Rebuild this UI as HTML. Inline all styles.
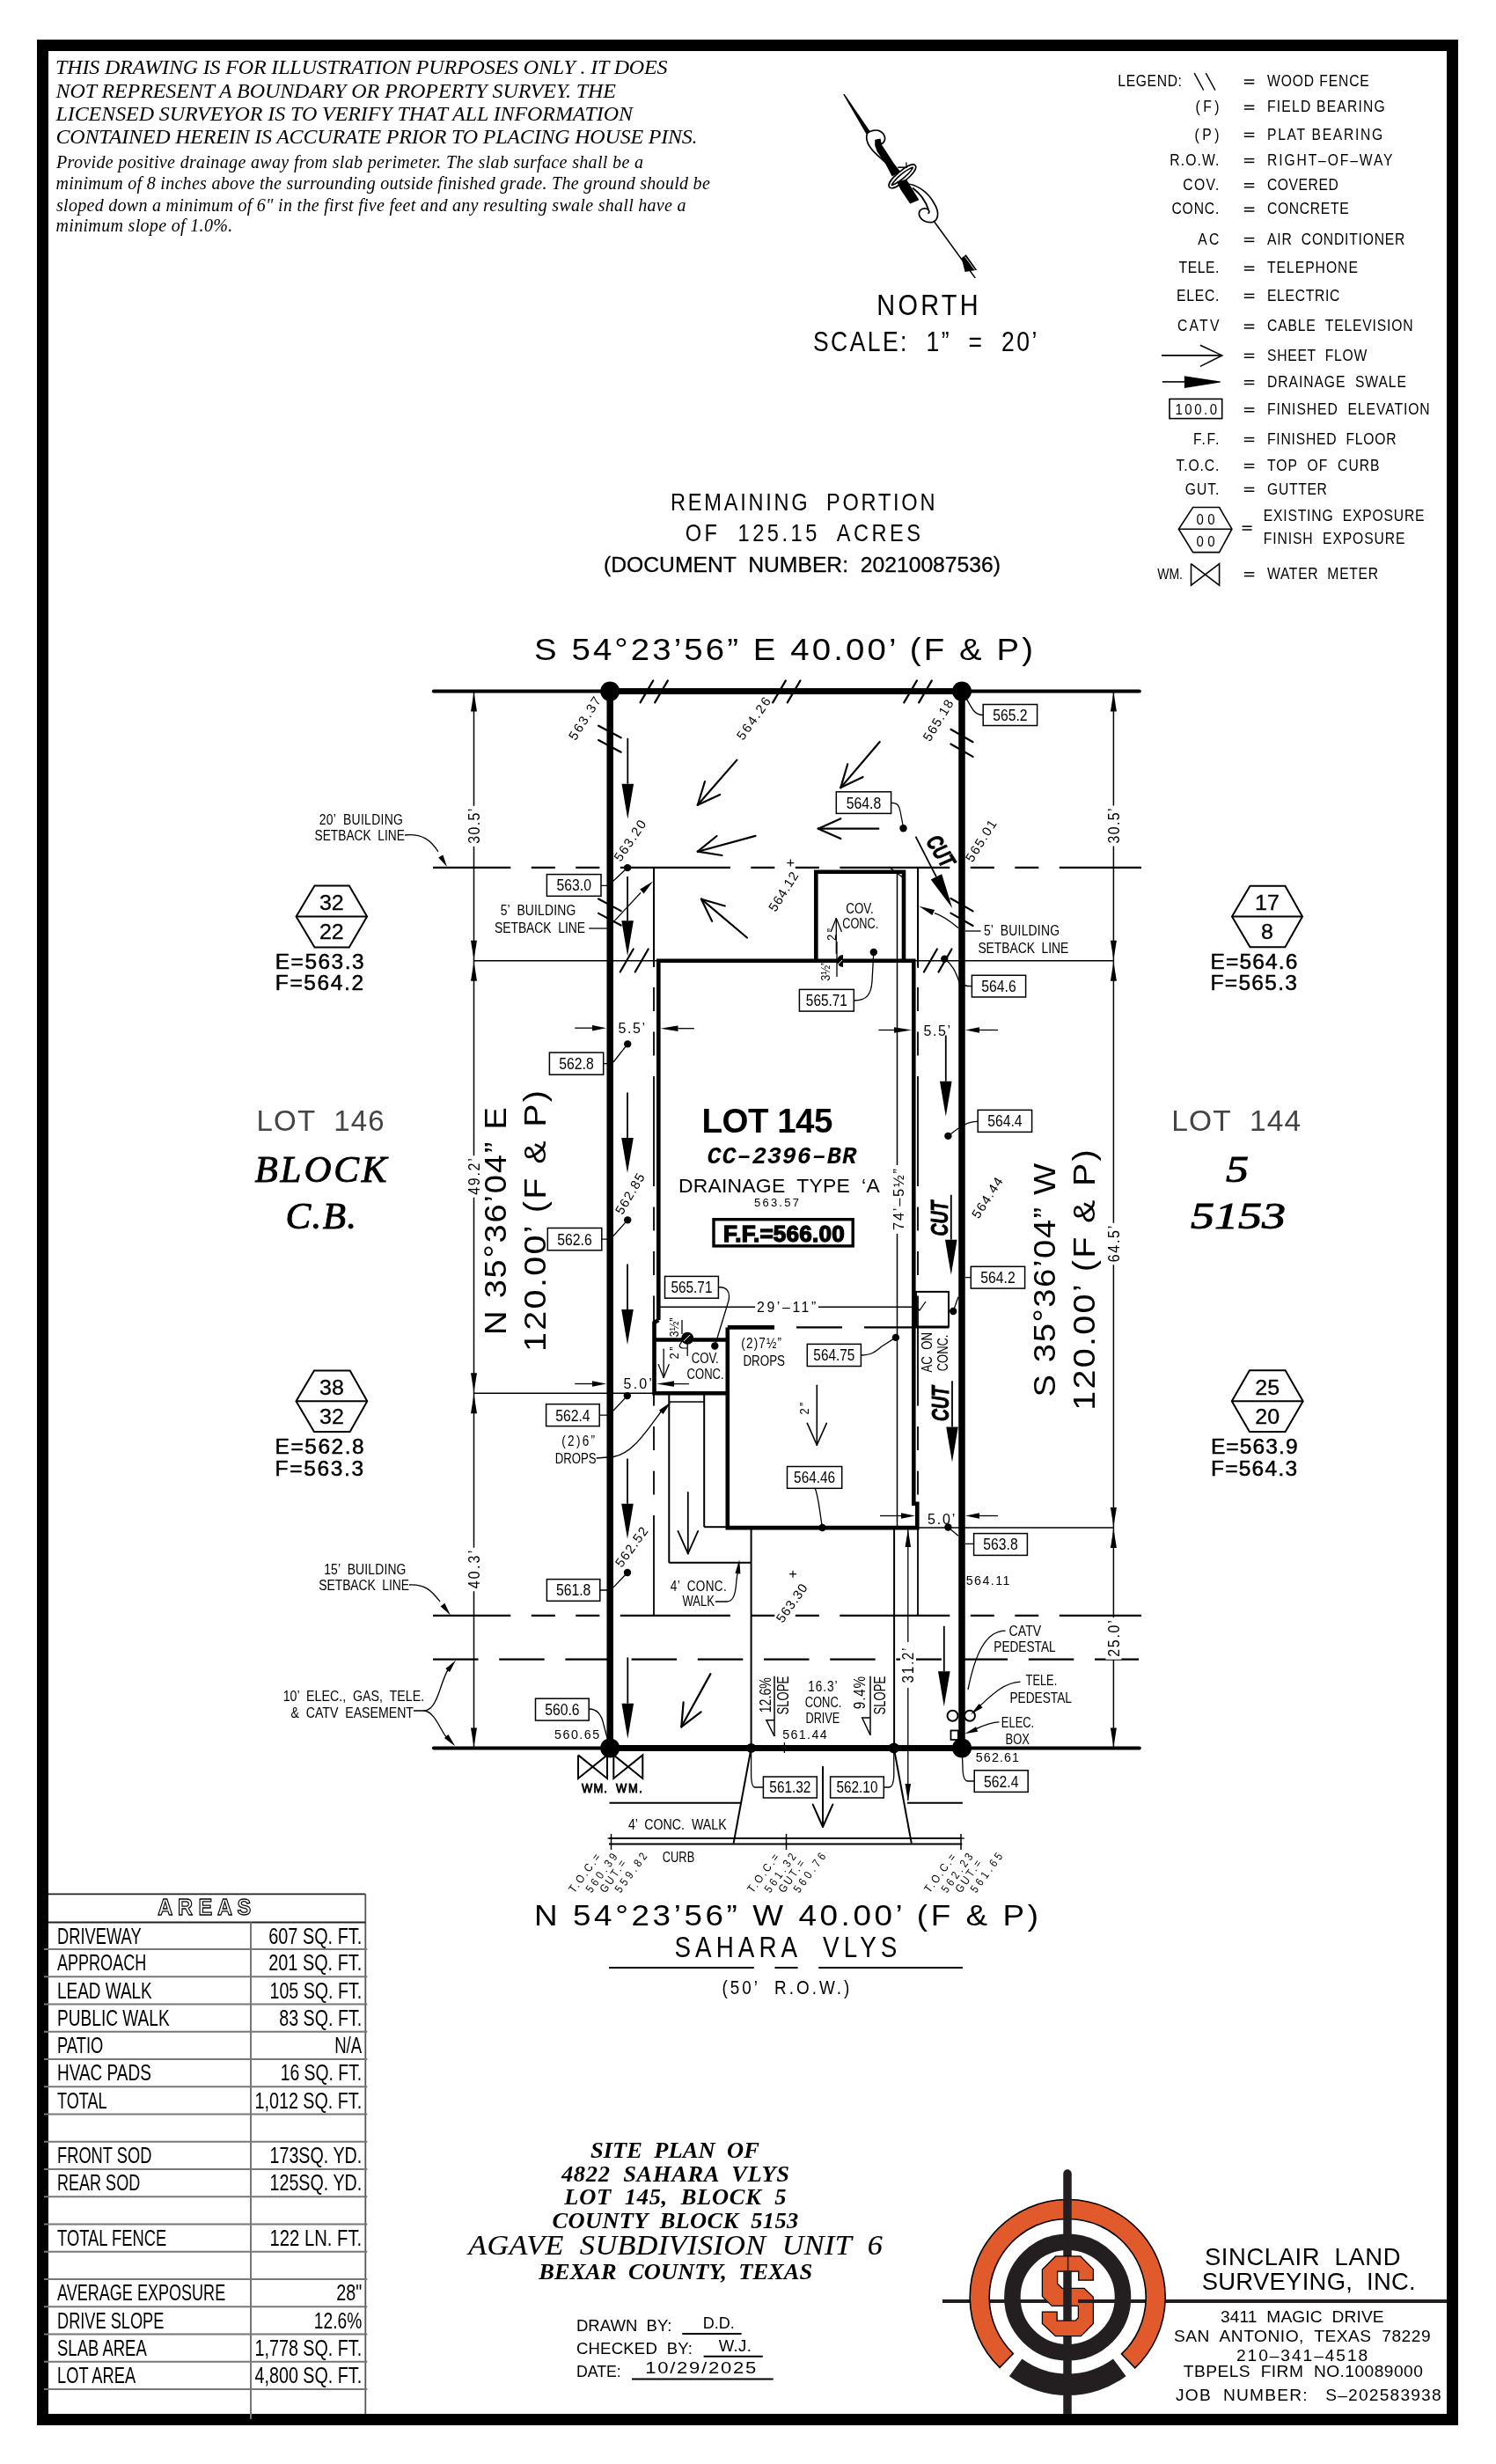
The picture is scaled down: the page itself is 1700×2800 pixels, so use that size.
<!DOCTYPE html>
<html><head><meta charset="utf-8"><title>Site Plan</title>
<style>
html,body{margin:0;padding:0;background:#fff;}
body{width:1700px;height:2800px;overflow:hidden;font-family:"Liberation Sans",sans-serif;}
svg{display:block;will-change:transform;}
</style></head><body>
<svg width="1700" height="2800" viewBox="0 0 1700 2800">
<rect x="0" y="0" width="1700" height="2800" fill="#fff"/>
<rect x="48.5" y="51.5" width="1602" height="2698" fill="none" stroke="#000" stroke-width="13"/>
<text x="63" y="83.6" font-family='"Liberation Serif", serif' font-size="24" xml:space="preserve" style="white-space:pre" font-style="italic" textLength="695.5" lengthAdjust="spacing">THIS DRAWING IS FOR ILLUSTRATION PURPOSES ONLY . IT DOES</text>
<text x="63.5" y="110.6" font-family='"Liberation Serif", serif' font-size="24" xml:space="preserve" style="white-space:pre" font-style="italic" textLength="636.5" lengthAdjust="spacing">NOT REPRESENT A BOUNDARY OR PROPERTY SURVEY. THE</text>
<text x="63.5" y="136.8" font-family='"Liberation Serif", serif' font-size="24" xml:space="preserve" style="white-space:pre" font-style="italic" textLength="655.5" lengthAdjust="spacing">LICENSED SURVEYOR IS TO VERIFY THAT ALL INFORMATION</text>
<text x="63.5" y="162.8" font-family='"Liberation Serif", serif' font-size="24" xml:space="preserve" style="white-space:pre" font-style="italic" textLength="729.1" lengthAdjust="spacing">CONTAINED HEREIN IS ACCURATE PRIOR TO PLACING HOUSE PINS.</text>
<text x="64" y="191.4" font-family='"Liberation Serif", serif' font-size="20" xml:space="preserve" style="white-space:pre" font-style="italic" textLength="667" lengthAdjust="spacing">Provide positive drainage away from slab perimeter. The slab surface shall be a</text>
<text x="63.5" y="215.4" font-family='"Liberation Serif", serif' font-size="20" xml:space="preserve" style="white-space:pre" font-style="italic" textLength="743.3" lengthAdjust="spacing">minimum of 8 inches above the surrounding outside finished grade. The ground should be</text>
<text x="64" y="239.5" font-family='"Liberation Serif", serif' font-size="20" xml:space="preserve" style="white-space:pre" font-style="italic" textLength="715.5" lengthAdjust="spacing">sloped down a minimum of 6" in the first five feet and any resulting swale shall have a</text>
<text x="63.5" y="262.5" font-family='"Liberation Serif", serif' font-size="20" xml:space="preserve" style="white-space:pre" font-style="italic" textLength="200.7" lengthAdjust="spacing">minimum slope of 1.0%.</text>
<text transform="translate(996.3 358.4) scale(0.86 1)" font-family='"Liberation Sans", sans-serif' font-size="33.61" xml:space="preserve" style="white-space:pre" textLength="134.07" lengthAdjust="spacing">NORTH</text>
<text transform="translate(924 399.4) scale(0.86 1)" font-family='"Liberation Sans", sans-serif' font-size="30.86" xml:space="preserve" style="white-space:pre" textLength="295.7" lengthAdjust="spacing">SCALE:  1”  =  20’</text>
<text transform="translate(1270.3 98.2) scale(0.86 1)" font-family='"Liberation Sans", sans-serif' font-size="18.24" xml:space="preserve" style="white-space:pre" textLength="84.53" lengthAdjust="spacing">LEGEND:</text>
<text transform="translate(1440 98.2) scale(0.86 1)" font-family='"Liberation Sans", sans-serif' font-size="18.24" xml:space="preserve" style="white-space:pre" textLength="134.65" lengthAdjust="spacing">WOOD FENCE</text>
<line x1="1413.8" y1="91" x2="1425.3" y2="91" stroke="#000" stroke-width="1.5" stroke-linecap="butt"/>
<line x1="1413.8" y1="94.8" x2="1425.3" y2="94.8" stroke="#000" stroke-width="1.5" stroke-linecap="butt"/>
<text transform="translate(1358.6 127.4) scale(0.86 1)" font-family='"Liberation Sans", sans-serif' font-size="18.24" xml:space="preserve" style="white-space:pre" textLength="31.16" lengthAdjust="spacing">(F)</text>
<text transform="translate(1440 127.4) scale(0.86 1)" font-family='"Liberation Sans", sans-serif' font-size="18.24" xml:space="preserve" style="white-space:pre" textLength="155.58" lengthAdjust="spacing">FIELD BEARING</text>
<line x1="1413.8" y1="120.2" x2="1425.3" y2="120.2" stroke="#000" stroke-width="1.5" stroke-linecap="butt"/>
<line x1="1413.8" y1="124" x2="1425.3" y2="124" stroke="#000" stroke-width="1.5" stroke-linecap="butt"/>
<text transform="translate(1357.6 158.6) scale(0.86 1)" font-family='"Liberation Sans", sans-serif' font-size="18.24" xml:space="preserve" style="white-space:pre" textLength="32.33" lengthAdjust="spacing">(P)</text>
<text transform="translate(1440 158.6) scale(0.86 1)" font-family='"Liberation Sans", sans-serif' font-size="18.24" xml:space="preserve" style="white-space:pre" textLength="152.56" lengthAdjust="spacing">PLAT BEARING</text>
<line x1="1413.8" y1="151.4" x2="1425.3" y2="151.4" stroke="#000" stroke-width="1.5" stroke-linecap="butt"/>
<line x1="1413.8" y1="155.2" x2="1425.3" y2="155.2" stroke="#000" stroke-width="1.5" stroke-linecap="butt"/>
<text transform="translate(1329.3 187.8) scale(0.86 1)" font-family='"Liberation Sans", sans-serif' font-size="18.24" xml:space="preserve" style="white-space:pre" textLength="65.23" lengthAdjust="spacing">R.O.W.</text>
<text transform="translate(1440 187.8) scale(0.86 1)" font-family='"Liberation Sans", sans-serif' font-size="18.24" xml:space="preserve" style="white-space:pre" textLength="165.7" lengthAdjust="spacing">RIGHT–OF–WAY</text>
<line x1="1413.8" y1="180.6" x2="1425.3" y2="180.6" stroke="#000" stroke-width="1.5" stroke-linecap="butt"/>
<line x1="1413.8" y1="184.4" x2="1425.3" y2="184.4" stroke="#000" stroke-width="1.5" stroke-linecap="butt"/>
<text transform="translate(1344.2 216) scale(0.86 1)" font-family='"Liberation Sans", sans-serif' font-size="18.24" xml:space="preserve" style="white-space:pre" textLength="47.91" lengthAdjust="spacing">COV.</text>
<text transform="translate(1440 216) scale(0.86 1)" font-family='"Liberation Sans", sans-serif' font-size="18.24" xml:space="preserve" style="white-space:pre" textLength="93.95" lengthAdjust="spacing">COVERED</text>
<line x1="1413.8" y1="208.8" x2="1425.3" y2="208.8" stroke="#000" stroke-width="1.5" stroke-linecap="butt"/>
<line x1="1413.8" y1="212.6" x2="1425.3" y2="212.6" stroke="#000" stroke-width="1.5" stroke-linecap="butt"/>
<text transform="translate(1331.4 243.4) scale(0.86 1)" font-family='"Liberation Sans", sans-serif' font-size="18.24" xml:space="preserve" style="white-space:pre" textLength="62.79" lengthAdjust="spacing">CONC.</text>
<text transform="translate(1440 243.4) scale(0.86 1)" font-family='"Liberation Sans", sans-serif' font-size="18.24" xml:space="preserve" style="white-space:pre" textLength="107.67" lengthAdjust="spacing">CONCRETE</text>
<line x1="1413.8" y1="236.2" x2="1425.3" y2="236.2" stroke="#000" stroke-width="1.5" stroke-linecap="butt"/>
<line x1="1413.8" y1="240" x2="1425.3" y2="240" stroke="#000" stroke-width="1.5" stroke-linecap="butt"/>
<text transform="translate(1361.2 277.8) scale(0.86 1)" font-family='"Liberation Sans", sans-serif' font-size="18.24" xml:space="preserve" style="white-space:pre" textLength="28.14" lengthAdjust="spacing">AC</text>
<text transform="translate(1440 277.8) scale(0.86 1)" font-family='"Liberation Sans", sans-serif' font-size="18.24" xml:space="preserve" style="white-space:pre" textLength="181.86" lengthAdjust="spacing">AIR  CONDITIONER</text>
<line x1="1413.8" y1="270.6" x2="1425.3" y2="270.6" stroke="#000" stroke-width="1.5" stroke-linecap="butt"/>
<line x1="1413.8" y1="274.4" x2="1425.3" y2="274.4" stroke="#000" stroke-width="1.5" stroke-linecap="butt"/>
<text transform="translate(1339.6 310.4) scale(0.86 1)" font-family='"Liberation Sans", sans-serif' font-size="18.24" xml:space="preserve" style="white-space:pre" textLength="53.26" lengthAdjust="spacing">TELE.</text>
<text transform="translate(1440 310.4) scale(0.86 1)" font-family='"Liberation Sans", sans-serif' font-size="18.24" xml:space="preserve" style="white-space:pre" textLength="119.65" lengthAdjust="spacing">TELEPHONE</text>
<line x1="1413.8" y1="303.2" x2="1425.3" y2="303.2" stroke="#000" stroke-width="1.5" stroke-linecap="butt"/>
<line x1="1413.8" y1="307" x2="1425.3" y2="307" stroke="#000" stroke-width="1.5" stroke-linecap="butt"/>
<text transform="translate(1337 341.6) scale(0.86 1)" font-family='"Liberation Sans", sans-serif' font-size="18.24" xml:space="preserve" style="white-space:pre" textLength="56.28" lengthAdjust="spacing">ELEC.</text>
<text transform="translate(1440 341.6) scale(0.86 1)" font-family='"Liberation Sans", sans-serif' font-size="18.24" xml:space="preserve" style="white-space:pre" textLength="95.7" lengthAdjust="spacing">ELECTRIC</text>
<line x1="1413.8" y1="334.4" x2="1425.3" y2="334.4" stroke="#000" stroke-width="1.5" stroke-linecap="butt"/>
<line x1="1413.8" y1="338.2" x2="1425.3" y2="338.2" stroke="#000" stroke-width="1.5" stroke-linecap="butt"/>
<text transform="translate(1338 376.3) scale(0.86 1)" font-family='"Liberation Sans", sans-serif' font-size="18.24" xml:space="preserve" style="white-space:pre" textLength="55.12" lengthAdjust="spacing">CATV</text>
<text transform="translate(1440 376.3) scale(0.86 1)" font-family='"Liberation Sans", sans-serif' font-size="18.24" xml:space="preserve" style="white-space:pre" textLength="192.67" lengthAdjust="spacing">CABLE  TELEVISION</text>
<line x1="1413.8" y1="369.1" x2="1425.3" y2="369.1" stroke="#000" stroke-width="1.5" stroke-linecap="butt"/>
<line x1="1413.8" y1="372.9" x2="1425.3" y2="372.9" stroke="#000" stroke-width="1.5" stroke-linecap="butt"/>
<text transform="translate(1440 409.6) scale(0.86 1)" font-family='"Liberation Sans", sans-serif' font-size="18.24" xml:space="preserve" style="white-space:pre" textLength="131.63" lengthAdjust="spacing">SHEET  FLOW</text>
<line x1="1413.8" y1="402.4" x2="1425.3" y2="402.4" stroke="#000" stroke-width="1.5" stroke-linecap="butt"/>
<line x1="1413.8" y1="406.2" x2="1425.3" y2="406.2" stroke="#000" stroke-width="1.5" stroke-linecap="butt"/>
<text transform="translate(1440 439.9) scale(0.86 1)" font-family='"Liberation Sans", sans-serif' font-size="18.24" xml:space="preserve" style="white-space:pre" textLength="183.72" lengthAdjust="spacing">DRAINAGE  SWALE</text>
<line x1="1413.8" y1="432.7" x2="1425.3" y2="432.7" stroke="#000" stroke-width="1.5" stroke-linecap="butt"/>
<line x1="1413.8" y1="436.5" x2="1425.3" y2="436.5" stroke="#000" stroke-width="1.5" stroke-linecap="butt"/>
<text transform="translate(1440 471.1) scale(0.86 1)" font-family='"Liberation Sans", sans-serif' font-size="18.24" xml:space="preserve" style="white-space:pre" textLength="214.77" lengthAdjust="spacing">FINISHED  ELEVATION</text>
<line x1="1413.8" y1="463.9" x2="1425.3" y2="463.9" stroke="#000" stroke-width="1.5" stroke-linecap="butt"/>
<line x1="1413.8" y1="467.7" x2="1425.3" y2="467.7" stroke="#000" stroke-width="1.5" stroke-linecap="butt"/>
<text transform="translate(1356 504.8) scale(0.86 1)" font-family='"Liberation Sans", sans-serif' font-size="18.24" xml:space="preserve" style="white-space:pre" textLength="34.19" lengthAdjust="spacing">F.F.</text>
<text transform="translate(1440 504.8) scale(0.86 1)" font-family='"Liberation Sans", sans-serif' font-size="18.24" xml:space="preserve" style="white-space:pre" textLength="170.47" lengthAdjust="spacing">FINISHED  FLOOR</text>
<line x1="1413.8" y1="497.6" x2="1425.3" y2="497.6" stroke="#000" stroke-width="1.5" stroke-linecap="butt"/>
<line x1="1413.8" y1="501.4" x2="1425.3" y2="501.4" stroke="#000" stroke-width="1.5" stroke-linecap="butt"/>
<text transform="translate(1336.5 534.8) scale(0.86 1)" font-family='"Liberation Sans", sans-serif' font-size="18.24" xml:space="preserve" style="white-space:pre" textLength="56.86" lengthAdjust="spacing">T.O.C.</text>
<text transform="translate(1440 534.8) scale(0.86 1)" font-family='"Liberation Sans", sans-serif' font-size="18.24" xml:space="preserve" style="white-space:pre" textLength="148.37" lengthAdjust="spacing">TOP  OF  CURB</text>
<line x1="1413.8" y1="527.6" x2="1425.3" y2="527.6" stroke="#000" stroke-width="1.5" stroke-linecap="butt"/>
<line x1="1413.8" y1="531.4" x2="1425.3" y2="531.4" stroke="#000" stroke-width="1.5" stroke-linecap="butt"/>
<text transform="translate(1346.8 561.6) scale(0.86 1)" font-family='"Liberation Sans", sans-serif' font-size="18.24" xml:space="preserve" style="white-space:pre" textLength="44.88" lengthAdjust="spacing">GUT.</text>
<text transform="translate(1440 561.6) scale(0.86 1)" font-family='"Liberation Sans", sans-serif' font-size="18.24" xml:space="preserve" style="white-space:pre" textLength="78.95" lengthAdjust="spacing">GUTTER</text>
<line x1="1413.8" y1="554.4" x2="1425.3" y2="554.4" stroke="#000" stroke-width="1.5" stroke-linecap="butt"/>
<line x1="1413.8" y1="558.2" x2="1425.3" y2="558.2" stroke="#000" stroke-width="1.5" stroke-linecap="butt"/>
<text transform="translate(1440 658) scale(0.86 1)" font-family='"Liberation Sans", sans-serif' font-size="18.24" xml:space="preserve" style="white-space:pre" textLength="146.51" lengthAdjust="spacing">WATER  METER</text>
<line x1="1413.8" y1="650.8" x2="1425.3" y2="650.8" stroke="#000" stroke-width="1.5" stroke-linecap="butt"/>
<line x1="1413.8" y1="654.6" x2="1425.3" y2="654.6" stroke="#000" stroke-width="1.5" stroke-linecap="butt"/>
<text transform="translate(1435.8 592.4) scale(0.86 1)" font-family='"Liberation Sans", sans-serif' font-size="18.24" xml:space="preserve" style="white-space:pre" textLength="212.44" lengthAdjust="spacing">EXISTING  EXPOSURE</text>
<text transform="translate(1435.8 618.4) scale(0.86 1)" font-family='"Liberation Sans", sans-serif' font-size="18.24" xml:space="preserve" style="white-space:pre" textLength="186.74" lengthAdjust="spacing">FINISH  EXPOSURE</text>
<line x1="1411.6" y1="598.2" x2="1422.6" y2="598.2" stroke="#000" stroke-width="1.5" stroke-linecap="butt"/>
<line x1="1411.6" y1="602" x2="1422.6" y2="602" stroke="#000" stroke-width="1.5" stroke-linecap="butt"/>
<text transform="translate(762 580.4) scale(0.86 1)" font-family='"Liberation Sans", sans-serif' font-size="27.43" xml:space="preserve" style="white-space:pre" textLength="349.42" lengthAdjust="spacing">REMAINING  PORTION</text>
<text transform="translate(778.7 615.3) scale(0.86 1)" font-family='"Liberation Sans", sans-serif' font-size="27.43" xml:space="preserve" style="white-space:pre" textLength="310.81" lengthAdjust="spacing">OF  125.15  ACRES</text>
<text x="686" y="649.5" font-family='"Liberation Sans", sans-serif' font-size="24.69" xml:space="preserve" style="white-space:pre" textLength="451" lengthAdjust="spacing" stroke="#000" stroke-width="0.3">(DOCUMENT  NUMBER:  20210087536)</text>
<text transform="translate(607 749.9) scale(1.12 1)" font-family='"Liberation Sans", sans-serif' font-size="34.29" xml:space="preserve" style="white-space:pre" textLength="506.25" lengthAdjust="spacing">S 54°23’56” E 40.00’ (F &amp; P)</text>
<line x1="492.8" y1="785.6" x2="693.2" y2="785.6" stroke="#000" stroke-width="4" stroke-linecap="round"/>
<line x1="1093" y1="785.6" x2="1294.8" y2="785.6" stroke="#000" stroke-width="4" stroke-linecap="round"/>
<line x1="492.8" y1="1986.4" x2="693.2" y2="1986.4" stroke="#000" stroke-width="4" stroke-linecap="round"/>
<line x1="1093" y1="1986.4" x2="1294.8" y2="1986.4" stroke="#000" stroke-width="4" stroke-linecap="round"/>
<line x1="693.2" y1="785.6" x2="1093" y2="785.6" stroke="#000" stroke-width="7" stroke-linecap="butt"/>
<line x1="693.2" y1="1986.4" x2="1093" y2="1986.4" stroke="#000" stroke-width="7" stroke-linecap="butt"/>
<line x1="693.2" y1="785.6" x2="693.2" y2="1986.4" stroke="#000" stroke-width="7.5" stroke-linecap="butt"/>
<line x1="1093" y1="785.6" x2="1093" y2="1986.4" stroke="#000" stroke-width="7.5" stroke-linecap="butt"/>
<circle cx="693.2" cy="785.6" r="11" fill="#000" stroke="#000" stroke-width="0"/>
<circle cx="1093" cy="785.6" r="11" fill="#000" stroke="#000" stroke-width="0"/>
<circle cx="693.2" cy="1986.4" r="11" fill="#000" stroke="#000" stroke-width="0"/>
<circle cx="1093" cy="1986.4" r="11" fill="#000" stroke="#000" stroke-width="0"/>
<text transform="translate(607 2188.3) scale(1.12 1)" font-family='"Liberation Sans", sans-serif' font-size="32.92" xml:space="preserve" style="white-space:pre" textLength="511.61" lengthAdjust="spacing">N 54°23’56” W 40.00’ (F &amp; P)</text>
<text transform="translate(766.5 2224.3) scale(0.86 1)" font-family='"Liberation Sans", sans-serif' font-size="32.37" xml:space="preserve" style="white-space:pre" textLength="293.95" lengthAdjust="spacing">SAHARA  VLYS</text>
<line x1="692" y1="2236" x2="856.8" y2="2236" stroke="#000" stroke-width="2" stroke-linecap="butt"/>
<line x1="880.5" y1="2236" x2="906.6" y2="2236" stroke="#000" stroke-width="2" stroke-linecap="butt"/>
<line x1="930.2" y1="2236" x2="1094" y2="2236" stroke="#000" stroke-width="2" stroke-linecap="butt"/>
<text transform="translate(820.4 2265.8) scale(0.86 1)" font-family='"Liberation Sans", sans-serif' font-size="21.95" xml:space="preserve" style="white-space:pre" textLength="168.6" lengthAdjust="spacing">(50’  R.O.W.)</text>
<text x="291.6" y="1284.5" font-family='"Liberation Sans", sans-serif' font-size="33" xml:space="preserve" style="white-space:pre" textLength="145.1" lengthAdjust="spacing" fill="#444">LOT  146</text>
<text x="1331.3" y="1285.3" font-family='"Liberation Sans", sans-serif' font-size="33.5" xml:space="preserve" style="white-space:pre" textLength="146.8" lengthAdjust="spacing" fill="#444">LOT  144</text>
<text x="289.5" y="1343.2" font-family='"Liberation Serif", serif' font-size="43" xml:space="preserve" style="white-space:pre" font-style="italic" textLength="150" lengthAdjust="spacing" stroke="#000" stroke-width="0.9">BLOCK</text>
<text x="324.6" y="1395.8" font-family='"Liberation Serif", serif' font-size="43" xml:space="preserve" style="white-space:pre" font-style="italic" textLength="80.4" lengthAdjust="spacing" stroke="#000" stroke-width="0.9">C.B.</text>
<text x="1393" y="1343.2" font-family='"Liberation Serif", serif' font-size="43" xml:space="preserve" style="white-space:pre" font-style="italic" textLength="26" lengthAdjust="spacingAndGlyphs" stroke="#000" stroke-width="0.9">5</text>
<text x="1352.9" y="1395.6" font-family='"Liberation Serif", serif' font-size="43" xml:space="preserve" style="white-space:pre" font-style="italic" textLength="108.3" lengthAdjust="spacingAndGlyphs" stroke="#000" stroke-width="0.9">5153</text>
<line x1="55" y1="2152.4" x2="415.3" y2="2152.4" stroke="#222" stroke-width="1.8" stroke-linecap="butt"/>
<line x1="415.3" y1="2152.4" x2="415.3" y2="2743" stroke="#555" stroke-width="1.8" stroke-linecap="butt"/>
<line x1="55" y1="2184.5" x2="415.3" y2="2184.5" stroke="#222" stroke-width="1.8" stroke-linecap="butt"/>
<line x1="285" y1="2184.5" x2="285" y2="2749" stroke="#777" stroke-width="2" stroke-linecap="butt"/>
<line x1="50" y1="2215" x2="417.3" y2="2215" stroke="#777" stroke-width="2" stroke-linecap="butt"/>
<text x="65" y="2208.8" font-family='"Liberation Sans", sans-serif' font-size="25" xml:space="preserve" style="white-space:pre" textLength="95.6" lengthAdjust="spacingAndGlyphs">DRIVEWAY</text>
<text x="305.3" y="2208.8" font-family='"Liberation Sans", sans-serif' font-size="25" xml:space="preserve" style="white-space:pre" textLength="105.9" lengthAdjust="spacingAndGlyphs">607 SQ. FT.</text>
<line x1="50" y1="2246.25" x2="417.3" y2="2246.25" stroke="#777" stroke-width="2" stroke-linecap="butt"/>
<text x="65" y="2239.3" font-family='"Liberation Sans", sans-serif' font-size="25" xml:space="preserve" style="white-space:pre" textLength="101.2" lengthAdjust="spacingAndGlyphs">APPROACH</text>
<text x="305.3" y="2239.3" font-family='"Liberation Sans", sans-serif' font-size="25" xml:space="preserve" style="white-space:pre" textLength="105.9" lengthAdjust="spacingAndGlyphs">201 SQ. FT.</text>
<line x1="50" y1="2277.5" x2="417.3" y2="2277.5" stroke="#777" stroke-width="2" stroke-linecap="butt"/>
<text x="65" y="2270.55" font-family='"Liberation Sans", sans-serif' font-size="25" xml:space="preserve" style="white-space:pre" textLength="107.7" lengthAdjust="spacingAndGlyphs">LEAD WALK</text>
<text x="306.5" y="2270.55" font-family='"Liberation Sans", sans-serif' font-size="25" xml:space="preserve" style="white-space:pre" textLength="104.7" lengthAdjust="spacingAndGlyphs">105 SQ. FT.</text>
<line x1="50" y1="2308.75" x2="417.3" y2="2308.75" stroke="#777" stroke-width="2" stroke-linecap="butt"/>
<text x="65" y="2301.8" font-family='"Liberation Sans", sans-serif' font-size="25" xml:space="preserve" style="white-space:pre" textLength="127.7" lengthAdjust="spacingAndGlyphs">PUBLIC WALK</text>
<text x="317.2" y="2301.8" font-family='"Liberation Sans", sans-serif' font-size="25" xml:space="preserve" style="white-space:pre" textLength="94" lengthAdjust="spacingAndGlyphs">83 SQ. FT.</text>
<line x1="50" y1="2340" x2="417.3" y2="2340" stroke="#777" stroke-width="2" stroke-linecap="butt"/>
<text x="65" y="2333.05" font-family='"Liberation Sans", sans-serif' font-size="25" xml:space="preserve" style="white-space:pre" textLength="52.3" lengthAdjust="spacingAndGlyphs">PATIO</text>
<text x="380.2" y="2333.05" font-family='"Liberation Sans", sans-serif' font-size="25" xml:space="preserve" style="white-space:pre" textLength="31" lengthAdjust="spacingAndGlyphs">N/A</text>
<line x1="50" y1="2371.25" x2="417.3" y2="2371.25" stroke="#777" stroke-width="2" stroke-linecap="butt"/>
<text x="65" y="2364.3" font-family='"Liberation Sans", sans-serif' font-size="25" xml:space="preserve" style="white-space:pre" textLength="106.9" lengthAdjust="spacingAndGlyphs">HVAC PADS</text>
<text x="318.7" y="2364.3" font-family='"Liberation Sans", sans-serif' font-size="25" xml:space="preserve" style="white-space:pre" textLength="92.5" lengthAdjust="spacingAndGlyphs">16 SQ. FT.</text>
<line x1="50" y1="2402.5" x2="417.3" y2="2402.5" stroke="#777" stroke-width="2" stroke-linecap="butt"/>
<text x="65" y="2395.55" font-family='"Liberation Sans", sans-serif' font-size="25" xml:space="preserve" style="white-space:pre" textLength="56.6" lengthAdjust="spacingAndGlyphs">TOTAL</text>
<text x="289.5" y="2395.55" font-family='"Liberation Sans", sans-serif' font-size="25" xml:space="preserve" style="white-space:pre" textLength="121.7" lengthAdjust="spacingAndGlyphs">1,012 SQ. FT.</text>
<line x1="50" y1="2433.75" x2="417.3" y2="2433.75" stroke="#777" stroke-width="2" stroke-linecap="butt"/>
<line x1="50" y1="2465" x2="417.3" y2="2465" stroke="#777" stroke-width="2" stroke-linecap="butt"/>
<text x="65" y="2458.05" font-family='"Liberation Sans", sans-serif' font-size="25" xml:space="preserve" style="white-space:pre" textLength="107.4" lengthAdjust="spacingAndGlyphs">FRONT SOD</text>
<text x="306.5" y="2458.05" font-family='"Liberation Sans", sans-serif' font-size="25" xml:space="preserve" style="white-space:pre" textLength="104.7" lengthAdjust="spacingAndGlyphs">173SQ. YD.</text>
<line x1="50" y1="2496.25" x2="417.3" y2="2496.25" stroke="#777" stroke-width="2" stroke-linecap="butt"/>
<text x="65" y="2489.3" font-family='"Liberation Sans", sans-serif' font-size="25" xml:space="preserve" style="white-space:pre" textLength="94.2" lengthAdjust="spacingAndGlyphs">REAR SOD</text>
<text x="306.5" y="2489.3" font-family='"Liberation Sans", sans-serif' font-size="25" xml:space="preserve" style="white-space:pre" textLength="104.7" lengthAdjust="spacingAndGlyphs">125SQ. YD.</text>
<line x1="50" y1="2527.5" x2="417.3" y2="2527.5" stroke="#777" stroke-width="2" stroke-linecap="butt"/>
<line x1="50" y1="2558.75" x2="417.3" y2="2558.75" stroke="#777" stroke-width="2" stroke-linecap="butt"/>
<text x="65" y="2551.8" font-family='"Liberation Sans", sans-serif' font-size="25" xml:space="preserve" style="white-space:pre" textLength="124.2" lengthAdjust="spacingAndGlyphs">TOTAL FENCE</text>
<text x="306.5" y="2551.8" font-family='"Liberation Sans", sans-serif' font-size="25" xml:space="preserve" style="white-space:pre" textLength="104.7" lengthAdjust="spacingAndGlyphs">122 LN. FT.</text>
<line x1="50" y1="2590" x2="417.3" y2="2590" stroke="#777" stroke-width="2" stroke-linecap="butt"/>
<line x1="50" y1="2621.25" x2="417.3" y2="2621.25" stroke="#777" stroke-width="2" stroke-linecap="butt"/>
<text x="65" y="2614.3" font-family='"Liberation Sans", sans-serif' font-size="25" xml:space="preserve" style="white-space:pre" textLength="191.2" lengthAdjust="spacingAndGlyphs">AVERAGE EXPOSURE</text>
<text x="382.2" y="2614.3" font-family='"Liberation Sans", sans-serif' font-size="25" xml:space="preserve" style="white-space:pre" textLength="29" lengthAdjust="spacingAndGlyphs">28"</text>
<line x1="50" y1="2652.5" x2="417.3" y2="2652.5" stroke="#777" stroke-width="2" stroke-linecap="butt"/>
<text x="65" y="2645.55" font-family='"Liberation Sans", sans-serif' font-size="25" xml:space="preserve" style="white-space:pre" textLength="121.4" lengthAdjust="spacingAndGlyphs">DRIVE SLOPE</text>
<text x="356.8" y="2645.55" font-family='"Liberation Sans", sans-serif' font-size="25" xml:space="preserve" style="white-space:pre" textLength="54.4" lengthAdjust="spacingAndGlyphs">12.6%</text>
<line x1="50" y1="2683.75" x2="417.3" y2="2683.75" stroke="#777" stroke-width="2" stroke-linecap="butt"/>
<text x="65" y="2676.8" font-family='"Liberation Sans", sans-serif' font-size="25" xml:space="preserve" style="white-space:pre" textLength="101.8" lengthAdjust="spacingAndGlyphs">SLAB AREA</text>
<text x="289.5" y="2676.8" font-family='"Liberation Sans", sans-serif' font-size="25" xml:space="preserve" style="white-space:pre" textLength="121.7" lengthAdjust="spacingAndGlyphs">1,778 SQ. FT.</text>
<line x1="50" y1="2715" x2="417.3" y2="2715" stroke="#777" stroke-width="2" stroke-linecap="butt"/>
<text x="65" y="2708.05" font-family='"Liberation Sans", sans-serif' font-size="25" xml:space="preserve" style="white-space:pre" textLength="89.1" lengthAdjust="spacingAndGlyphs">LOT AREA</text>
<text x="289.5" y="2708.05" font-family='"Liberation Sans", sans-serif' font-size="25" xml:space="preserve" style="white-space:pre" textLength="121.7" lengthAdjust="spacingAndGlyphs">4,800 SQ. FT.</text>
<text x="179.3" y="2175.7" font-family='"Liberation Sans", sans-serif' font-size="26.5" xml:space="preserve" style="white-space:pre" font-weight="bold" textLength="106" lengthAdjust="spacingAndGlyphs" stroke="#000" stroke-width="1.3" fill="#fff">A R E A S</text>
<text transform="translate(670.9 2452.4) scale(1.08 1)" font-family='"Liberation Serif", serif' font-size="24.5" xml:space="preserve" style="white-space:pre" font-weight="bold" font-style="italic" textLength="177.78" lengthAdjust="spacing">SITE  PLAN  OF</text>
<text transform="translate(637.9 2478.6) scale(1.08 1)" font-family='"Liberation Serif", serif' font-size="24.5" xml:space="preserve" style="white-space:pre" font-weight="bold" font-style="italic" textLength="239.91" lengthAdjust="spacing">4822  SAHARA  VLYS</text>
<text transform="translate(641.3 2504.6) scale(1.08 1)" font-family='"Liberation Serif", serif' font-size="24.5" xml:space="preserve" style="white-space:pre" font-weight="bold" font-style="italic" textLength="233.61" lengthAdjust="spacing">LOT  145,  BLOCK  5</text>
<text transform="translate(627.6 2531.8) scale(1.08 1)" font-family='"Liberation Serif", serif' font-size="24.5" xml:space="preserve" style="white-space:pre" font-weight="bold" font-style="italic" textLength="258.89" lengthAdjust="spacing">COUNTY  BLOCK  5153</text>
<text transform="translate(612.3 2589.8) scale(1.08 1)" font-family='"Liberation Serif", serif' font-size="24.5" xml:space="preserve" style="white-space:pre" font-weight="bold" font-style="italic" textLength="287.87" lengthAdjust="spacing">BEXAR  COUNTY,  TEXAS</text>
<text transform="translate(532.2 2561.5) scale(1.1 1)" font-family='"Liberation Serif", serif' font-size="31" xml:space="preserve" style="white-space:pre" font-style="italic" textLength="427.73" lengthAdjust="spacing" stroke="#000" stroke-width="0.15">AGAVE  SUBDIVISION  UNIT  6</text>
<text x="654.9" y="2649.2" font-family='"Liberation Sans", sans-serif' font-size="18.52" xml:space="preserve" style="white-space:pre" textLength="108.6" lengthAdjust="spacing">DRAWN  BY:</text>
<text x="654.9" y="2674.5" font-family='"Liberation Sans", sans-serif' font-size="18.52" xml:space="preserve" style="white-space:pre" textLength="132.1" lengthAdjust="spacing">CHECKED  BY:</text>
<text x="654.9" y="2700.9" font-family='"Liberation Sans", sans-serif' font-size="18.52" xml:space="preserve" style="white-space:pre" textLength="50.9" lengthAdjust="spacingAndGlyphs">DATE:</text>
<text x="798.7" y="2646.2" font-family='"Liberation Sans", sans-serif' font-size="18.52" xml:space="preserve" style="white-space:pre" textLength="36.1" lengthAdjust="spacingAndGlyphs">D.D.</text>
<text x="816.8" y="2672" font-family='"Liberation Sans", sans-serif' font-size="18.52" xml:space="preserve" style="white-space:pre" textLength="37" lengthAdjust="spacing">W.J.</text>
<text transform="translate(733.2 2697.2) scale(1.15 1)" font-family='"Liberation Sans", sans-serif' font-size="19.2" xml:space="preserve" style="white-space:pre" textLength="109.57" lengthAdjust="spacing">10/29/2025</text>
<line x1="775.3" y1="2652.1" x2="842.6" y2="2652.1" stroke="#000" stroke-width="2" stroke-linecap="butt"/>
<line x1="799.6" y1="2677.8" x2="866.8" y2="2677.8" stroke="#000" stroke-width="2" stroke-linecap="butt"/>
<line x1="718" y1="2703.4" x2="878.7" y2="2703.4" stroke="#000" stroke-width="2" stroke-linecap="butt"/>
<text x="1368.9" y="2574.3" font-family='"Liberation Sans", sans-serif' font-size="27.43" xml:space="preserve" style="white-space:pre" textLength="222.6" lengthAdjust="spacing">SINCLAIR  LAND</text>
<text x="1365.7" y="2602.4" font-family='"Liberation Sans", sans-serif' font-size="27.43" xml:space="preserve" style="white-space:pre" textLength="243" lengthAdjust="spacing">SURVEYING,  INC.</text>
<text x="1386.9" y="2638.5" font-family='"Liberation Sans", sans-serif' font-size="19.2" xml:space="preserve" style="white-space:pre" textLength="185.7" lengthAdjust="spacing">3411  MAGIC  DRIVE</text>
<text x="1334" y="2660.6" font-family='"Liberation Sans", sans-serif' font-size="19.2" xml:space="preserve" style="white-space:pre" textLength="291.6" lengthAdjust="spacing">SAN  ANTONIO,  TEXAS  78229</text>
<text x="1405" y="2682.6" font-family='"Liberation Sans", sans-serif' font-size="19.2" xml:space="preserve" style="white-space:pre" textLength="149.2" lengthAdjust="spacing">210–341–4518</text>
<text x="1344.8" y="2700.7" font-family='"Liberation Sans", sans-serif' font-size="19.2" xml:space="preserve" style="white-space:pre" textLength="272" lengthAdjust="spacing">TBPELS  FIRM  NO.10089000</text>
<text x="1336" y="2728" font-family='"Liberation Sans", sans-serif' font-size="19.2" xml:space="preserve" style="white-space:pre" textLength="301.6" lengthAdjust="spacing">JOB  NUMBER:   S–202583938</text>
<line x1="1071" y1="2615" x2="1644" y2="2615" stroke="#000" stroke-width="4" stroke-linecap="butt"/>
<line x1="492" y1="985.8" x2="1297" y2="985.8" stroke="#000" stroke-width="2.2" stroke-linecap="butt" stroke-dasharray="125 23.5 27 23.5 27 23.5" stroke-dashoffset="36.7"/>
<line x1="492" y1="1835.8" x2="1297" y2="1835.8" stroke="#000" stroke-width="2.2" stroke-linecap="butt" stroke-dasharray="125 23.5 27 23.5 27 23.5" stroke-dashoffset="36.7"/>
<line x1="492" y1="1885.6" x2="1294" y2="1885.6" stroke="#000" stroke-width="2.2" stroke-linecap="butt" stroke-dasharray="51.5 23.7" stroke-dashoffset="0"/>
<line x1="743" y1="985.8" x2="743" y2="1835.8" stroke="#000" stroke-width="1.8" stroke-linecap="butt" stroke-dasharray="125 23.5 27 23.5 27 23.5" stroke-dashoffset="12.4"/>
<line x1="1043" y1="985.8" x2="1043" y2="1835.8" stroke="#000" stroke-width="1.8" stroke-linecap="butt" stroke-dasharray="125 23.5 27 23.5 27 23.5" stroke-dashoffset="12.4"/>
<line x1="743" y1="985.8" x2="743" y2="1099" stroke="#000" stroke-width="1.8" stroke-linecap="butt"/>
<line x1="1043.2" y1="985.8" x2="1043.2" y2="1100" stroke="#000" stroke-width="1.8" stroke-linecap="butt"/>
<line x1="538.5" y1="1091.8" x2="748" y2="1091.8" stroke="#000" stroke-width="1.5" stroke-linecap="butt"/>
<line x1="1038" y1="1091.8" x2="1265.4" y2="1091.8" stroke="#000" stroke-width="1.5" stroke-linecap="butt"/>
<line x1="538.5" y1="1583.3" x2="745" y2="1583.3" stroke="#000" stroke-width="1.5" stroke-linecap="butt"/>
<line x1="1042" y1="1736.1" x2="1265.4" y2="1736.1" stroke="#000" stroke-width="1.5" stroke-linecap="butt"/>
<line x1="538.5" y1="785.6" x2="538.5" y2="1986.4" stroke="#000" stroke-width="1.5" stroke-linecap="butt"/>
<polygon points="538.5,786.6 542,808.6 535,808.6" fill="#000"/>
<polygon points="538.5,1090.8 535,1068.8 542,1068.8" fill="#000"/>
<polygon points="538.5,1092.8 542,1114.8 535,1114.8" fill="#000"/>
<polygon points="538.5,1582.3 535,1560.3 542,1560.3" fill="#000"/>
<polygon points="538.5,1584.3 542,1606.3 535,1606.3" fill="#000"/>
<polygon points="538.5,1985.4 535,1963.4 542,1963.4" fill="#000"/>
<line x1="1265.4" y1="785.6" x2="1265.4" y2="1986.4" stroke="#000" stroke-width="1.5" stroke-linecap="butt"/>
<polygon points="1265.4,786.6 1268.9,808.6 1261.9,808.6" fill="#000"/>
<polygon points="1265.4,1090.8 1261.9,1068.8 1268.9,1068.8" fill="#000"/>
<polygon points="1265.4,1092.8 1268.9,1114.8 1261.9,1114.8" fill="#000"/>
<polygon points="1265.4,1735.1 1261.9,1713.1 1268.9,1713.1" fill="#000"/>
<polygon points="1265.4,1737.1 1268.9,1759.1 1261.9,1759.1" fill="#000"/>
<polygon points="1265.4,1985.4 1261.9,1963.4 1268.9,1963.4" fill="#000"/>
<rect x="529.5" y="915.8" width="18" height="46" fill="#fff"/>
<text transform="translate(545.25 958.8) rotate(-90) scale(0.86 1)" font-family='"Liberation Sans", sans-serif' font-size="18.52" xml:space="preserve" style="white-space:pre" textLength="46.51" lengthAdjust="spacing">30.5’</text>
<rect x="529.5" y="1313.25" width="18" height="47.5" fill="#fff"/>
<text transform="translate(545.25 1357.75) rotate(-90) scale(0.86 1)" font-family='"Liberation Sans", sans-serif' font-size="18.52" xml:space="preserve" style="white-space:pre" textLength="48.26" lengthAdjust="spacing">49.2’</text>
<rect x="529.5" y="1758.75" width="18" height="49.5" fill="#fff"/>
<text transform="translate(545.25 1805.25) rotate(-90) scale(0.86 1)" font-family='"Liberation Sans", sans-serif' font-size="18.52" xml:space="preserve" style="white-space:pre" textLength="50.58" lengthAdjust="spacing">40.3’</text>
<rect x="1256.4" y="915.5" width="18" height="46" fill="#fff"/>
<text transform="translate(1272.15 958.5) rotate(-90) scale(0.86 1)" font-family='"Liberation Sans", sans-serif' font-size="18.52" xml:space="preserve" style="white-space:pre" textLength="46.51" lengthAdjust="spacing">30.5’</text>
<rect x="1256.4" y="1389.75" width="18" height="47.5" fill="#fff"/>
<text transform="translate(1272.15 1434.25) rotate(-90) scale(0.86 1)" font-family='"Liberation Sans", sans-serif' font-size="18.52" xml:space="preserve" style="white-space:pre" textLength="48.26" lengthAdjust="spacing">64.5’</text>
<rect x="1256.4" y="1838.25" width="18" height="47.5" fill="#fff"/>
<text transform="translate(1272.15 1882.75) rotate(-90) scale(0.86 1)" font-family='"Liberation Sans", sans-serif' font-size="18.52" xml:space="preserve" style="white-space:pre" textLength="48.26" lengthAdjust="spacing">25.0’</text>
<text transform="translate(575 1517) rotate(-90) scale(1.08 1)" font-family='"Liberation Sans", sans-serif' font-size="35.25" xml:space="preserve" style="white-space:pre" textLength="239.81" lengthAdjust="spacing">N 35°36’04” E</text>
<text transform="translate(620 1536) rotate(-90) scale(1.12 1)" font-family='"Liberation Sans", sans-serif' font-size="35.25" xml:space="preserve" style="white-space:pre" textLength="265.18" lengthAdjust="spacing">120.00’ (F &amp; P)</text>
<text transform="translate(1198.8 1587.4) rotate(-90) scale(1.08 1)" font-family='"Liberation Sans", sans-serif' font-size="35.39" xml:space="preserve" style="white-space:pre" textLength="245.83" lengthAdjust="spacing">S 35°36’04” W</text>
<text transform="translate(1244 1602.8) rotate(-90) scale(1.12 1)" font-family='"Liberation Sans", sans-serif' font-size="35.39" xml:space="preserve" style="white-space:pre" textLength="264.82" lengthAdjust="spacing">120.00’ (F &amp; P)</text>
<line x1="727.54" y1="798.39" x2="742.26" y2="773.41" stroke="#000" stroke-width="2.2" stroke-linecap="round"/>
<line x1="744.14" y1="798.39" x2="758.86" y2="773.41" stroke="#000" stroke-width="2.2" stroke-linecap="round"/>
<line x1="878.14" y1="798.39" x2="892.86" y2="773.41" stroke="#000" stroke-width="2.2" stroke-linecap="round"/>
<line x1="894.74" y1="798.39" x2="909.46" y2="773.41" stroke="#000" stroke-width="2.2" stroke-linecap="round"/>
<line x1="1027.24" y1="798.39" x2="1041.96" y2="773.41" stroke="#000" stroke-width="2.2" stroke-linecap="round"/>
<line x1="1044.14" y1="798.39" x2="1058.86" y2="773.41" stroke="#000" stroke-width="2.2" stroke-linecap="round"/>
<line x1="680.1" y1="824.69" x2="705.7" y2="838.31" stroke="#000" stroke-width="2.2" stroke-linecap="round"/>
<line x1="680.1" y1="841.09" x2="705.7" y2="854.71" stroke="#000" stroke-width="2.2" stroke-linecap="round"/>
<line x1="680.1" y1="1021.49" x2="705.7" y2="1035.11" stroke="#000" stroke-width="2.2" stroke-linecap="round"/>
<line x1="680.1" y1="1037.89" x2="705.7" y2="1051.51" stroke="#000" stroke-width="2.2" stroke-linecap="round"/>
<line x1="1080.42" y1="828.79" x2="1105.58" y2="843.21" stroke="#000" stroke-width="2.2" stroke-linecap="round"/>
<line x1="1080.42" y1="845.49" x2="1105.58" y2="859.91" stroke="#000" stroke-width="2.2" stroke-linecap="round"/>
<line x1="1080.42" y1="1020.99" x2="1105.58" y2="1035.41" stroke="#000" stroke-width="2.2" stroke-linecap="round"/>
<line x1="1080.42" y1="1037.59" x2="1105.58" y2="1052.01" stroke="#000" stroke-width="2.2" stroke-linecap="round"/>
<line x1="704.7" y1="1104.49" x2="719.7" y2="1078.51" stroke="#000" stroke-width="2.2" stroke-linecap="round"/>
<line x1="721.7" y1="1104.49" x2="736.7" y2="1078.51" stroke="#000" stroke-width="2.2" stroke-linecap="round"/>
<line x1="1049.9" y1="1104.49" x2="1064.9" y2="1078.51" stroke="#000" stroke-width="2.2" stroke-linecap="round"/>
<line x1="1066.5" y1="1104.49" x2="1081.5" y2="1078.51" stroke="#000" stroke-width="2.2" stroke-linecap="round"/>
<path d="M748.3 1500 L748.3 1091.8 L1038.3 1091.8 L1038.3 1708.8 L1042.3 1708.8 L1042.3 1736.1 L826.8 1736.1 L826.8 1508.4" fill="none" stroke="#000" stroke-width="4.6" stroke-linejoin="miter" stroke-linecap="butt"/>
<path d="M748.3 1500 L743.5 1503 L743.5 1583.3 L826.8 1583.3" fill="none" stroke="#000" stroke-width="4.6" stroke-linejoin="miter" stroke-linecap="butt"/>
<line x1="743.5" y1="1522.5" x2="826.8" y2="1522.5" stroke="#000" stroke-width="4.6" stroke-linecap="butt"/>
<line x1="826.8" y1="1508.4" x2="880" y2="1508.4" stroke="#000" stroke-width="4.6" stroke-linecap="butt"/>
<line x1="905" y1="1508.4" x2="957" y2="1508.4" stroke="#000" stroke-width="2.2" stroke-linecap="butt"/>
<line x1="982" y1="1508.4" x2="1078.3" y2="1508.4" stroke="#000" stroke-width="2.2" stroke-linecap="butt"/>
<path d="M927.3 1091.8 L927.3 990.8 L1027 990.8 L1027 1091.8" fill="none" stroke="#000" stroke-width="4.6" stroke-linejoin="miter" stroke-linecap="butt"/>
<line x1="1019.5" y1="990.8" x2="1019.5" y2="1736" stroke="#000" stroke-width="1.5" stroke-linecap="butt"/>
<rect x="1041" y="1467.9" width="37" height="39.6" fill="none" stroke="#000" stroke-width="2"/>
<line x1="760.3" y1="1583.3" x2="760.3" y2="1775.8" stroke="#000" stroke-width="2" stroke-linecap="butt"/>
<line x1="760.3" y1="1775.8" x2="853.6" y2="1775.8" stroke="#000" stroke-width="2" stroke-linecap="butt"/>
<line x1="800.2" y1="1583.3" x2="800.2" y2="1735.2" stroke="#000" stroke-width="2" stroke-linecap="butt"/>
<line x1="800.2" y1="1735.2" x2="826.8" y2="1735.2" stroke="#000" stroke-width="2" stroke-linecap="butt"/>
<line x1="760.3" y1="1593" x2="800.2" y2="1593" stroke="#000" stroke-width="1.5" stroke-linecap="butt"/>
<line x1="853.6" y1="1736.1" x2="853.6" y2="1986.4" stroke="#000" stroke-width="2" stroke-linecap="butt"/>
<line x1="1016.1" y1="1736.1" x2="1016.1" y2="1986.4" stroke="#000" stroke-width="2" stroke-linecap="butt"/>
<circle cx="853.6" cy="1986.4" r="5.5" fill="#000" stroke="#000" stroke-width="0"/>
<circle cx="1015.8" cy="1986.4" r="6" fill="#000" stroke="#000" stroke-width="0"/>
<line x1="853.6" y1="1986.4" x2="833.6" y2="2094.6" stroke="#000" stroke-width="2" stroke-linecap="butt"/>
<line x1="1015.8" y1="1986.4" x2="1035.8" y2="2094.6" stroke="#000" stroke-width="2" stroke-linecap="butt"/>
<line x1="748.3" y1="1485.3" x2="858" y2="1485.3" stroke="#000" stroke-width="1.5" stroke-linecap="butt"/>
<line x1="930" y1="1485.3" x2="1038.3" y2="1485.3" stroke="#000" stroke-width="1.5" stroke-linecap="butt"/>
<text x="860" y="1490.8" font-family='"Liberation Sans", sans-serif' font-size="15.78" xml:space="preserve" style="white-space:pre" textLength="67.3" lengthAdjust="spacing">29’–11”</text>
<rect x="1010" y="1324" width="18" height="78" fill="#fff"/>
<text transform="translate(1026.5 1398) rotate(-90)" font-family='"Liberation Sans", sans-serif' font-size="16.46" xml:space="preserve" style="white-space:pre" textLength="70" lengthAdjust="spacing">74’–5½”</text>
<text x="797.6" y="1287.3" font-family='"Liberation Sans", sans-serif' font-size="38.5" xml:space="preserve" style="white-space:pre" font-weight="bold" textLength="148.8" lengthAdjust="spacing">LOT 145</text>
<text x="803.5" y="1322.4" font-family='"Liberation Mono", monospace' font-size="27" xml:space="preserve" style="white-space:pre" font-weight="bold" font-style="italic" textLength="169.6" lengthAdjust="spacing">CC–2396–BR</text>
<text x="770.9" y="1355.3" font-family='"Liberation Sans", sans-serif' font-size="22.91" xml:space="preserve" style="white-space:pre" textLength="228.8" lengthAdjust="spacing">DRAINAGE  TYPE  ‘A</text>
<text x="857" y="1371.2" font-family='"Liberation Sans", sans-serif' font-size="13.03" xml:space="preserve" style="white-space:pre" textLength="50.9" lengthAdjust="spacing">563.57</text>
<rect x="811" y="1385.7" width="158.2" height="30.2" fill="none" stroke="#000" stroke-width="3.4"/>
<text x="821.9" y="1411.3" font-family='"Liberation Sans", sans-serif' font-size="26" xml:space="preserve" style="white-space:pre" font-weight="bold" textLength="137.8" lengthAdjust="spacing" stroke="#000" stroke-width="1.4">F.F.=566.00</text>
<rect x="1117.2" y="800.5" width="61.4" height="24" fill="none" stroke="#000" stroke-width="1.5"/>
<text x="1147.9" y="818.9" font-family='"Liberation Sans", sans-serif' font-size="17.56" xml:space="preserve" style="white-space:pre" text-anchor="middle" textLength="39.4" lengthAdjust="spacingAndGlyphs">565.2</text>
<rect x="950.3" y="899.8" width="62.3" height="24.6" fill="none" stroke="#000" stroke-width="1.5"/>
<text x="981.45" y="918.5" font-family='"Liberation Sans", sans-serif' font-size="17.56" xml:space="preserve" style="white-space:pre" text-anchor="middle" textLength="39.4" lengthAdjust="spacingAndGlyphs">564.8</text>
<rect x="621.4" y="993.6" width="61.6" height="24.7" fill="none" stroke="#000" stroke-width="1.5"/>
<text x="652.2" y="1012.35" font-family='"Liberation Sans", sans-serif' font-size="17.56" xml:space="preserve" style="white-space:pre" text-anchor="middle" textLength="39.4" lengthAdjust="spacingAndGlyphs">563.0</text>
<rect x="908.4" y="1124.4" width="61.9" height="24.7" fill="none" stroke="#000" stroke-width="1.5"/>
<text x="939.35" y="1143.15" font-family='"Liberation Sans", sans-serif' font-size="17.56" xml:space="preserve" style="white-space:pre" text-anchor="middle" textLength="47" lengthAdjust="spacingAndGlyphs">565.71</text>
<rect x="1104.4" y="1108.3" width="61.2" height="24.7" fill="none" stroke="#000" stroke-width="1.5"/>
<text x="1135" y="1127.05" font-family='"Liberation Sans", sans-serif' font-size="17.56" xml:space="preserve" style="white-space:pre" text-anchor="middle" textLength="39.4" lengthAdjust="spacingAndGlyphs">564.6</text>
<rect x="624.4" y="1196.1" width="61.3" height="25.1" fill="none" stroke="#000" stroke-width="1.5"/>
<text x="655.05" y="1215.05" font-family='"Liberation Sans", sans-serif' font-size="17.56" xml:space="preserve" style="white-space:pre" text-anchor="middle" textLength="39.4" lengthAdjust="spacingAndGlyphs">562.8</text>
<rect x="1111.2" y="1261.4" width="61.4" height="25" fill="none" stroke="#000" stroke-width="1.5"/>
<text x="1141.9" y="1280.3" font-family='"Liberation Sans", sans-serif' font-size="17.56" xml:space="preserve" style="white-space:pre" text-anchor="middle" textLength="39.4" lengthAdjust="spacingAndGlyphs">564.4</text>
<rect x="622.3" y="1395.5" width="61.5" height="25.3" fill="none" stroke="#000" stroke-width="1.5"/>
<text x="653.05" y="1414.55" font-family='"Liberation Sans", sans-serif' font-size="17.56" xml:space="preserve" style="white-space:pre" text-anchor="middle" textLength="39.4" lengthAdjust="spacingAndGlyphs">562.6</text>
<rect x="1103.3" y="1439.3" width="61.3" height="24.8" fill="none" stroke="#000" stroke-width="1.5"/>
<text x="1133.95" y="1458.1" font-family='"Liberation Sans", sans-serif' font-size="17.56" xml:space="preserve" style="white-space:pre" text-anchor="middle" textLength="39.4" lengthAdjust="spacingAndGlyphs">564.2</text>
<rect x="755.5" y="1450.4" width="60.9" height="24.8" fill="none" stroke="#000" stroke-width="1.5"/>
<text x="785.95" y="1469.2" font-family='"Liberation Sans", sans-serif' font-size="17.56" xml:space="preserve" style="white-space:pre" text-anchor="middle" textLength="47" lengthAdjust="spacingAndGlyphs">565.71</text>
<rect x="917.3" y="1527.4" width="61.1" height="25.1" fill="none" stroke="#000" stroke-width="1.5"/>
<text x="947.85" y="1546.35" font-family='"Liberation Sans", sans-serif' font-size="17.56" xml:space="preserve" style="white-space:pre" text-anchor="middle" textLength="47" lengthAdjust="spacingAndGlyphs">564.75</text>
<rect x="620.6" y="1595.6" width="60.6" height="25" fill="none" stroke="#000" stroke-width="1.5"/>
<text x="650.9" y="1614.5" font-family='"Liberation Sans", sans-serif' font-size="17.56" xml:space="preserve" style="white-space:pre" text-anchor="middle" textLength="39.4" lengthAdjust="spacingAndGlyphs">562.4</text>
<rect x="894.5" y="1666.5" width="62.2" height="24.8" fill="none" stroke="#000" stroke-width="1.5"/>
<text x="925.6" y="1685.3" font-family='"Liberation Sans", sans-serif' font-size="17.56" xml:space="preserve" style="white-space:pre" text-anchor="middle" textLength="47" lengthAdjust="spacingAndGlyphs">564.46</text>
<rect x="1106.6" y="1742.6" width="60.8" height="24.8" fill="none" stroke="#000" stroke-width="1.5"/>
<text x="1137" y="1761.4" font-family='"Liberation Sans", sans-serif' font-size="17.56" xml:space="preserve" style="white-space:pre" text-anchor="middle" textLength="39.4" lengthAdjust="spacingAndGlyphs">563.8</text>
<rect x="621.4" y="1794.6" width="60.4" height="24.7" fill="none" stroke="#000" stroke-width="1.5"/>
<text x="651.6" y="1813.35" font-family='"Liberation Sans", sans-serif' font-size="17.56" xml:space="preserve" style="white-space:pre" text-anchor="middle" textLength="39.4" lengthAdjust="spacingAndGlyphs">561.8</text>
<rect x="608.5" y="1930.2" width="60.7" height="24.9" fill="none" stroke="#000" stroke-width="1.5"/>
<text x="638.85" y="1949.05" font-family='"Liberation Sans", sans-serif' font-size="17.56" xml:space="preserve" style="white-space:pre" text-anchor="middle" textLength="39.4" lengthAdjust="spacingAndGlyphs">560.6</text>
<rect x="867.4" y="2019" width="60.9" height="24" fill="none" stroke="#000" stroke-width="1.5"/>
<text x="897.85" y="2037.4" font-family='"Liberation Sans", sans-serif' font-size="17.56" xml:space="preserve" style="white-space:pre" text-anchor="middle" textLength="47" lengthAdjust="spacingAndGlyphs">561.32</text>
<rect x="943.6" y="2019" width="60.7" height="24" fill="none" stroke="#000" stroke-width="1.5"/>
<text x="973.95" y="2037.4" font-family='"Liberation Sans", sans-serif' font-size="17.56" xml:space="preserve" style="white-space:pre" text-anchor="middle" textLength="47" lengthAdjust="spacingAndGlyphs">562.10</text>
<rect x="1107.2" y="2011.8" width="61" height="24.6" fill="none" stroke="#000" stroke-width="1.5"/>
<text x="1137.7" y="2030.5" font-family='"Liberation Sans", sans-serif' font-size="17.56" xml:space="preserve" style="white-space:pre" text-anchor="middle" textLength="39.4" lengthAdjust="spacingAndGlyphs">562.4</text>
<circle cx="1026.5" cy="941.3" r="4.2" fill="#000" stroke="#000" stroke-width="0"/>
<path d="M1012.6 912.4 C1020 912 1022 916 1023 922 L1026.5 940" fill="none" stroke="#000" stroke-width="1.3"/>
<circle cx="713.1" cy="986.1" r="4.2" fill="#000" stroke="#000" stroke-width="0"/>
<path d="M713.1 986.1 L697 1001 L691 1006.3 L683 1006.3" fill="none" stroke="#000" stroke-width="1.3"/>
<circle cx="992.8" cy="1082" r="4.2" fill="#000" stroke="#000" stroke-width="0"/>
<path d="M970.3 1137 C985 1137 990 1130 991 1115 L992.8 1082" fill="none" stroke="#000" stroke-width="1.3"/>
<circle cx="1073.3" cy="1089.6" r="4.2" fill="#000" stroke="#000" stroke-width="0"/>
<path d="M1073.3 1089.6 C1082 1096 1086 1104 1090 1116 C1093 1120 1098 1120.7 1104.4 1120.7" fill="none" stroke="#000" stroke-width="1.3"/>
<circle cx="713.2" cy="1186.4" r="4.2" fill="#000" stroke="#000" stroke-width="0"/>
<path d="M713.2 1186.4 L697 1207 M697 1208.6 L685.7 1208.6" fill="none" stroke="#000" stroke-width="1.3"/>
<circle cx="1077.4" cy="1290.9" r="4.2" fill="#000" stroke="#000" stroke-width="0"/>
<path d="M1077.4 1290.9 C1088 1283 1097 1274.4 1111.2 1274.4" fill="none" stroke="#000" stroke-width="1.3"/>
<circle cx="713.2" cy="1386.4" r="4.2" fill="#000" stroke="#000" stroke-width="0"/>
<path d="M713.2 1386.4 L697 1404.5 M697 1408.2 L683.8 1408.2" fill="none" stroke="#000" stroke-width="1.3"/>
<circle cx="1083.2" cy="1490" r="4.2" fill="#000" stroke="#000" stroke-width="0"/>
<path d="M1083.2 1490 L1089 1473.8 M1097 1451.7 L1103.3 1451.7" fill="none" stroke="#000" stroke-width="1.3"/>
<circle cx="812.3" cy="1529.5" r="4.2" fill="#000" stroke="#000" stroke-width="0"/>
<path d="M816.4 1462.8 C826 1462 830 1468 828 1478 L812.3 1529.5" fill="none" stroke="#000" stroke-width="1.3"/>
<circle cx="1017.9" cy="1519.9" r="4.2" fill="#000" stroke="#000" stroke-width="0"/>
<path d="M978.4 1540 C990 1540 995 1536 1002 1530 L1017.9 1519.9" fill="none" stroke="#000" stroke-width="1.3"/>
<circle cx="712.8" cy="1586.1" r="4.2" fill="#000" stroke="#000" stroke-width="0"/>
<path d="M712.8 1586.1 L697 1603 M697 1608.1 L681.2 1608.1" fill="none" stroke="#000" stroke-width="1.3"/>
<circle cx="934.5" cy="1736" r="4.2" fill="#000" stroke="#000" stroke-width="0"/>
<path d="M926.2 1691.3 C930 1700 931 1715 934.5 1736" fill="none" stroke="#000" stroke-width="1.3"/>
<circle cx="1077.4" cy="1735.5" r="4.2" fill="#000" stroke="#000" stroke-width="0"/>
<path d="M1077.4 1735.5 L1089 1745.2 M1097 1754.3 L1106.6 1754.3" fill="none" stroke="#000" stroke-width="1.3"/>
<circle cx="713" cy="1787" r="4.2" fill="#000" stroke="#000" stroke-width="0"/>
<path d="M713 1787 L697 1803.9 M697 1807 L681.8 1807" fill="none" stroke="#000" stroke-width="1.3"/>
<path d="M669.2 1942 C680 1942 684 1950 686 1960 L690 1975" fill="none" stroke="#000" stroke-width="1.3"/>
<path d="M867.4 2031 L858 2031 C855 2031 853.6 2025 853.6 2015 L853.6 1992" fill="none" stroke="#000" stroke-width="1.3"/>
<path d="M1004.3 2031 L1010 2031 C1014 2031 1015.8 2025 1015.8 2015 L1015.8 1992" fill="none" stroke="#000" stroke-width="1.3"/>
<path d="M1107.2 2024 L1100 2024 C1096 2024 1094 2018 1094 2008 L1093.5 1996" fill="none" stroke="#000" stroke-width="1.3"/>
<path d="M1093 787 C1098 792 1101 800 1106 807 C1109 811 1113 812.5 1117.2 812.5" fill="none" stroke="#000" stroke-width="1.3"/>
<line x1="713.3" y1="838.8" x2="713.3" y2="890.7" stroke="#000" stroke-width="1.8" stroke-linecap="butt"/>
<polygon points="713.3,930.7 706.5,890.7 720.1,890.7" fill="#000"/>
<line x1="713.1" y1="996" x2="713.1" y2="1046.3" stroke="#000" stroke-width="1.8" stroke-linecap="butt"/>
<polygon points="713.1,1086.3 706.3,1046.3 719.9,1046.3" fill="#000"/>
<line x1="713" y1="1241.6" x2="713" y2="1293.1" stroke="#000" stroke-width="1.8" stroke-linecap="butt"/>
<polygon points="713,1333.1 706.2,1293.1 719.8,1293.1" fill="#000"/>
<line x1="713" y1="1436.4" x2="713" y2="1488" stroke="#000" stroke-width="1.8" stroke-linecap="butt"/>
<polygon points="713,1528 706.2,1488 719.8,1488" fill="#000"/>
<line x1="713" y1="1657.6" x2="713" y2="1708.7" stroke="#000" stroke-width="1.8" stroke-linecap="butt"/>
<polygon points="713,1748.7 706.2,1708.7 719.8,1708.7" fill="#000"/>
<line x1="713.3" y1="1883.4" x2="713.3" y2="1935.7" stroke="#000" stroke-width="1.8" stroke-linecap="butt"/>
<polygon points="713.3,1975.7 706.5,1935.7 720.1,1935.7" fill="#000"/>
<line x1="1074.8" y1="1176.6" x2="1074.8" y2="1228.8" stroke="#000" stroke-width="1.8" stroke-linecap="butt"/>
<polygon points="1074.8,1268.8 1068,1228.8 1081.6,1228.8" fill="#000"/>
<line x1="1080.8" y1="1357.8" x2="1080.8" y2="1408.7" stroke="#000" stroke-width="1.8" stroke-linecap="butt"/>
<polygon points="1080.8,1448.7 1074,1408.7 1087.6,1408.7" fill="#000"/>
<line x1="1082" y1="1569.2" x2="1082" y2="1621.4" stroke="#000" stroke-width="1.8" stroke-linecap="butt"/>
<polygon points="1082,1661.4 1075.2,1621.4 1088.8,1621.4" fill="#000"/>
<line x1="1072.8" y1="1847.8" x2="1072.8" y2="1899.3" stroke="#000" stroke-width="1.8" stroke-linecap="butt"/>
<polygon points="1072.8,1939.3 1066,1899.3 1079.6,1899.3" fill="#000"/>
<line x1="1040.5" y1="950.6" x2="1063.96" y2="996.4" stroke="#000" stroke-width="1.8" stroke-linecap="butt"/>
<polygon points="1082.2,1032 1057.73,999.59 1070.19,993.21" fill="#000"/>
<line x1="837.4" y1="863.6" x2="792.8" y2="914.8" stroke="#000" stroke-width="2.2" stroke-linecap="round"/>
<line x1="792.8" y1="914.8" x2="801.01" y2="888.03" stroke="#000" stroke-width="2.2" stroke-linecap="round"/>
<line x1="792.8" y1="914.8" x2="818.19" y2="902.99" stroke="#000" stroke-width="2.2" stroke-linecap="round"/>
<line x1="999.7" y1="843" x2="955.3" y2="895.1" stroke="#000" stroke-width="2.2" stroke-linecap="round"/>
<line x1="955.3" y1="895.1" x2="963.22" y2="868.24" stroke="#000" stroke-width="2.2" stroke-linecap="round"/>
<line x1="955.3" y1="895.1" x2="980.56" y2="883.02" stroke="#000" stroke-width="2.2" stroke-linecap="round"/>
<line x1="998.3" y1="941.7" x2="929.8" y2="941.7" stroke="#000" stroke-width="2.2" stroke-linecap="round"/>
<line x1="929.8" y1="941.7" x2="955.38" y2="930.31" stroke="#000" stroke-width="2.2" stroke-linecap="round"/>
<line x1="929.8" y1="941.7" x2="955.38" y2="953.09" stroke="#000" stroke-width="2.2" stroke-linecap="round"/>
<line x1="858.5" y1="949.9" x2="792.8" y2="967.7" stroke="#000" stroke-width="2.2" stroke-linecap="round"/>
<line x1="792.8" y1="967.7" x2="814.51" y2="950.02" stroke="#000" stroke-width="2.2" stroke-linecap="round"/>
<line x1="792.8" y1="967.7" x2="820.47" y2="972" stroke="#000" stroke-width="2.2" stroke-linecap="round"/>
<line x1="848.9" y1="1065.5" x2="796.9" y2="1021.7" stroke="#000" stroke-width="2.2" stroke-linecap="round"/>
<line x1="796.9" y1="1021.7" x2="823.8" y2="1029.47" stroke="#000" stroke-width="2.2" stroke-linecap="round"/>
<line x1="796.9" y1="1021.7" x2="809.13" y2="1046.89" stroke="#000" stroke-width="2.2" stroke-linecap="round"/>
<line x1="807.4" y1="1902.1" x2="774.3" y2="1962.3" stroke="#000" stroke-width="2.2" stroke-linecap="round"/>
<line x1="774.3" y1="1962.3" x2="776.64" y2="1934.4" stroke="#000" stroke-width="2.2" stroke-linecap="round"/>
<line x1="774.3" y1="1962.3" x2="796.6" y2="1945.37" stroke="#000" stroke-width="2.2" stroke-linecap="round"/>
<line x1="928.3" y1="1574.3" x2="928.3" y2="1642" stroke="#000" stroke-width="1.6" stroke-linecap="round"/>
<line x1="928.3" y1="1642" x2="917.32" y2="1617.33" stroke="#000" stroke-width="1.6" stroke-linecap="round"/>
<line x1="928.3" y1="1642" x2="939.28" y2="1617.33" stroke="#000" stroke-width="1.6" stroke-linecap="round"/>
<line x1="781.8" y1="1696" x2="781.8" y2="1765.4" stroke="#000" stroke-width="1.8" stroke-linecap="round"/>
<line x1="781.8" y1="1765.4" x2="770.41" y2="1739.82" stroke="#000" stroke-width="1.8" stroke-linecap="round"/>
<line x1="781.8" y1="1765.4" x2="793.19" y2="1739.82" stroke="#000" stroke-width="1.8" stroke-linecap="round"/>
<line x1="935" y1="2007.8" x2="935" y2="2076" stroke="#000" stroke-width="2" stroke-linecap="round"/>
<line x1="935" y1="2076" x2="923.61" y2="2050.42" stroke="#000" stroke-width="2" stroke-linecap="round"/>
<line x1="935" y1="2076" x2="946.39" y2="2050.42" stroke="#000" stroke-width="2" stroke-linecap="round"/>
<line x1="950.3" y1="1083.3" x2="950.3" y2="1043.6" stroke="#000" stroke-width="1.3" stroke-linecap="round"/>
<line x1="950.3" y1="1043.6" x2="956.29" y2="1058.43" stroke="#000" stroke-width="1.3" stroke-linecap="round"/>
<line x1="950.3" y1="1043.6" x2="944.31" y2="1058.43" stroke="#000" stroke-width="1.3" stroke-linecap="round"/>
<line x1="754.2" y1="1533.2" x2="754.2" y2="1565.4" stroke="#000" stroke-width="1.3" stroke-linecap="round"/>
<line x1="754.2" y1="1565.4" x2="748.21" y2="1550.57" stroke="#000" stroke-width="1.3" stroke-linecap="round"/>
<line x1="754.2" y1="1565.4" x2="760.19" y2="1550.57" stroke="#000" stroke-width="1.3" stroke-linecap="round"/>
<text transform="translate(653.98 842.19) rotate(-57.5)" font-family='"Liberation Sans", sans-serif' font-size="14.81" xml:space="preserve" style="white-space:pre" textLength="55" lengthAdjust="spacing">563.37</text>
<text transform="translate(844.6 842.03) rotate(-54.7)" font-family='"Liberation Sans", sans-serif' font-size="14.81" xml:space="preserve" style="white-space:pre" textLength="55.4" lengthAdjust="spacing">564.26</text>
<text transform="translate(1056.82 843.39) rotate(-58.5)" font-family='"Liberation Sans", sans-serif' font-size="14.81" xml:space="preserve" style="white-space:pre" textLength="52" lengthAdjust="spacing">565.18</text>
<text transform="translate(705.13 980.03) rotate(-55.7)" font-family='"Liberation Sans", sans-serif' font-size="14.81" xml:space="preserve" style="white-space:pre" textLength="53" lengthAdjust="spacing">563.20</text>
<text transform="translate(1105.04 980.63) rotate(-58)" font-family='"Liberation Sans", sans-serif' font-size="14.81" xml:space="preserve" style="white-space:pre" textLength="53" lengthAdjust="spacing">565.01</text>
<text transform="translate(881.33 1037.06) rotate(-58)" font-family='"Liberation Sans", sans-serif' font-size="14.81" xml:space="preserve" style="white-space:pre" textLength="50" lengthAdjust="spacing">564.12</text>
<text transform="translate(707.31 1381.21) rotate(-59.5)" font-family='"Liberation Sans", sans-serif' font-size="14.81" xml:space="preserve" style="white-space:pre" textLength="51" lengthAdjust="spacing">562.85</text>
<text transform="translate(1111.97 1385.75) rotate(-57)" font-family='"Liberation Sans", sans-serif' font-size="14.81" xml:space="preserve" style="white-space:pre" textLength="52" lengthAdjust="spacing">564.44</text>
<text transform="translate(706.49 1782.01) rotate(-54)" font-family='"Liberation Sans", sans-serif' font-size="14.81" xml:space="preserve" style="white-space:pre" textLength="52" lengthAdjust="spacing">562.52</text>
<text transform="translate(889.54 1845.06) rotate(-54.9)" font-family='"Liberation Sans", sans-serif' font-size="14.81" xml:space="preserve" style="white-space:pre" textLength="50" lengthAdjust="spacing">563.30</text>
<line x1="894.3" y1="980.6" x2="902.3" y2="980.6" stroke="#000" stroke-width="1.2" stroke-linecap="butt"/>
<line x1="898.3" y1="976.6" x2="898.3" y2="984.6" stroke="#000" stroke-width="1.2" stroke-linecap="butt"/>
<line x1="897" y1="1788.7" x2="905" y2="1788.7" stroke="#000" stroke-width="1.2" stroke-linecap="butt"/>
<line x1="901" y1="1784.7" x2="901" y2="1792.7" stroke="#000" stroke-width="1.2" stroke-linecap="butt"/>
<text transform="translate(1061.5 972) rotate(58)" font-family='"Liberation Sans", sans-serif' font-size="26" xml:space="preserve" style="white-space:pre" font-weight="bold" font-style="italic" text-anchor="middle" textLength="38" lengthAdjust="spacingAndGlyphs" stroke="#000" stroke-width="0.9">CUT</text>
<text transform="translate(1076.5 1384.5) rotate(-90)" font-family='"Liberation Sans", sans-serif' font-size="27" xml:space="preserve" style="white-space:pre" font-weight="bold" font-style="italic" text-anchor="middle" textLength="40" lengthAdjust="spacingAndGlyphs" stroke="#000" stroke-width="0.9">CUT</text>
<text transform="translate(1077.5 1595) rotate(-90)" font-family='"Liberation Sans", sans-serif' font-size="27" xml:space="preserve" style="white-space:pre" font-weight="bold" font-style="italic" text-anchor="middle" textLength="40" lengthAdjust="spacingAndGlyphs" stroke="#000" stroke-width="0.9">CUT</text>
<path d="M357.5 1006.4 L396.8 1006.4 L417.1 1041.45 L396.8 1076.5 L357.5 1076.5 L336.6 1041.45Z" fill="none" stroke="#000" stroke-width="2" stroke-linejoin="miter" stroke-linecap="butt"/>
<line x1="336.6" y1="1041.45" x2="417.1" y2="1041.45" stroke="#000" stroke-width="2" stroke-linecap="butt"/>
<text x="376.85" y="1033.95" font-family='"Liberation Sans", sans-serif' font-size="24" xml:space="preserve" style="white-space:pre" text-anchor="middle" textLength="27.8" lengthAdjust="spacingAndGlyphs" stroke="#000" stroke-width="0.3">32</text>
<text x="376.85" y="1067.25" font-family='"Liberation Sans", sans-serif' font-size="24" xml:space="preserve" style="white-space:pre" text-anchor="middle" textLength="27.8" lengthAdjust="spacingAndGlyphs" stroke="#000" stroke-width="0.3">22</text>
<text x="312.8" y="1101" font-family='"Liberation Sans", sans-serif' font-size="24.5" xml:space="preserve" style="white-space:pre" textLength="100.8" lengthAdjust="spacing" stroke="#000" stroke-width="0.5">E=563.3</text>
<text x="312.8" y="1125.1" font-family='"Liberation Sans", sans-serif' font-size="24.5" xml:space="preserve" style="white-space:pre" textLength="100.3" lengthAdjust="spacing" stroke="#000" stroke-width="0.5">F=564.2</text>
<path d="M357 1557.4 L397.7 1557.4 L417.3 1592.2 L397.7 1627 L357 1627 L336.5 1592.2Z" fill="none" stroke="#000" stroke-width="2" stroke-linejoin="miter" stroke-linecap="butt"/>
<line x1="336.5" y1="1592.2" x2="417.3" y2="1592.2" stroke="#000" stroke-width="2" stroke-linecap="butt"/>
<text x="376.9" y="1584.7" font-family='"Liberation Sans", sans-serif' font-size="24" xml:space="preserve" style="white-space:pre" text-anchor="middle" textLength="27.8" lengthAdjust="spacingAndGlyphs" stroke="#000" stroke-width="0.3">38</text>
<text x="376.9" y="1618" font-family='"Liberation Sans", sans-serif' font-size="24" xml:space="preserve" style="white-space:pre" text-anchor="middle" textLength="27.8" lengthAdjust="spacingAndGlyphs" stroke="#000" stroke-width="0.3">32</text>
<text x="312.6" y="1652.3" font-family='"Liberation Sans", sans-serif' font-size="24.5" xml:space="preserve" style="white-space:pre" textLength="101" lengthAdjust="spacing" stroke="#000" stroke-width="0.5">E=562.8</text>
<text x="312.6" y="1676.7" font-family='"Liberation Sans", sans-serif' font-size="24.5" xml:space="preserve" style="white-space:pre" textLength="100.5" lengthAdjust="spacing" stroke="#000" stroke-width="0.5">F=563.3</text>
<path d="M1420.5 1006.7 L1460.4 1006.7 L1480 1041.5 L1460.4 1076.3 L1420.5 1076.3 L1400 1041.5Z" fill="none" stroke="#000" stroke-width="2" stroke-linejoin="miter" stroke-linecap="butt"/>
<line x1="1400" y1="1041.5" x2="1480" y2="1041.5" stroke="#000" stroke-width="2" stroke-linecap="butt"/>
<text x="1440" y="1034" font-family='"Liberation Sans", sans-serif' font-size="24" xml:space="preserve" style="white-space:pre" text-anchor="middle" textLength="27.8" lengthAdjust="spacingAndGlyphs" stroke="#000" stroke-width="0.3">17</text>
<text x="1440" y="1067.3" font-family='"Liberation Sans", sans-serif' font-size="24" xml:space="preserve" style="white-space:pre" text-anchor="middle" textLength="13.9" lengthAdjust="spacingAndGlyphs" stroke="#000" stroke-width="0.3">8</text>
<text x="1375.6" y="1101.3" font-family='"Liberation Sans", sans-serif' font-size="24.5" xml:space="preserve" style="white-space:pre" textLength="98.8" lengthAdjust="spacing" stroke="#000" stroke-width="0.5">E=564.6</text>
<text x="1375.6" y="1124.6" font-family='"Liberation Sans", sans-serif' font-size="24.5" xml:space="preserve" style="white-space:pre" textLength="98.3" lengthAdjust="spacing" stroke="#000" stroke-width="0.5">F=565.3</text>
<path d="M1419.9 1557.3 L1460.6 1557.3 L1480.7 1592.15 L1460.6 1627 L1419.9 1627 L1399.8 1592.15Z" fill="none" stroke="#000" stroke-width="2" stroke-linejoin="miter" stroke-linecap="butt"/>
<line x1="1399.8" y1="1592.15" x2="1480.7" y2="1592.15" stroke="#000" stroke-width="2" stroke-linecap="butt"/>
<text x="1440.25" y="1584.65" font-family='"Liberation Sans", sans-serif' font-size="24" xml:space="preserve" style="white-space:pre" text-anchor="middle" textLength="27.8" lengthAdjust="spacingAndGlyphs" stroke="#000" stroke-width="0.3">25</text>
<text x="1440.25" y="1617.95" font-family='"Liberation Sans", sans-serif' font-size="24" xml:space="preserve" style="white-space:pre" text-anchor="middle" textLength="27.8" lengthAdjust="spacingAndGlyphs" stroke="#000" stroke-width="0.3">20</text>
<text x="1375.9" y="1652.3" font-family='"Liberation Sans", sans-serif' font-size="24.5" xml:space="preserve" style="white-space:pre" textLength="98.7" lengthAdjust="spacing" stroke="#000" stroke-width="0.5">E=563.9</text>
<text x="1375.9" y="1676.6" font-family='"Liberation Sans", sans-serif' font-size="24.5" xml:space="preserve" style="white-space:pre" textLength="98.2" lengthAdjust="spacing" stroke="#000" stroke-width="0.5">F=564.3</text>
<text transform="translate(362.8 936.6) scale(0.86 1)" font-family='"Liberation Sans", sans-serif' font-size="16.19" xml:space="preserve" style="white-space:pre" textLength="110.47" lengthAdjust="spacing">20’  BUILDING</text>
<text transform="translate(357.5 955.3) scale(0.86 1)" font-family='"Liberation Sans", sans-serif' font-size="16.19" xml:space="preserve" style="white-space:pre" textLength="119.07" lengthAdjust="spacingAndGlyphs">SETBACK  LINE</text>
<path d="M460 949 C480 947 490 955 498 968" fill="none" stroke="#000" stroke-width="1.3"/>
<polygon points="508,985 498.22,974.54 503.37,971.45" fill="#000"/>
<text transform="translate(568.7 1040.4) scale(0.86 1)" font-family='"Liberation Sans", sans-serif' font-size="16.19" xml:space="preserve" style="white-space:pre" textLength="99.53" lengthAdjust="spacing">5’  BUILDING</text>
<text transform="translate(562 1060.4) scale(0.86 1)" font-family='"Liberation Sans", sans-serif' font-size="16.19" xml:space="preserve" style="white-space:pre" textLength="119.77" lengthAdjust="spacing">SETBACK  LINE</text>
<line x1="669.2" y1="1055" x2="690" y2="1055" stroke="#000" stroke-width="1.3" stroke-linecap="butt"/>
<line x1="696.5" y1="1048.4" x2="728" y2="1014.5" stroke="#000" stroke-width="1.3" stroke-linecap="butt"/>
<polygon points="742,1001.5 731.66,1015.38 727.27,1010.59" fill="#000"/>
<text transform="translate(1117.9 1062.8) scale(0.86 1)" font-family='"Liberation Sans", sans-serif' font-size="16.19" xml:space="preserve" style="white-space:pre" textLength="100.12" lengthAdjust="spacing">5’  BUILDING</text>
<text transform="translate(1111.4 1083) scale(0.86 1)" font-family='"Liberation Sans", sans-serif' font-size="16.19" xml:space="preserve" style="white-space:pre" textLength="119.53" lengthAdjust="spacing">SETBACK  LINE</text>
<line x1="1097" y1="1058" x2="1114.5" y2="1058" stroke="#000" stroke-width="1.3" stroke-linecap="butt"/>
<path d="M1089 1054.5 C1080 1047 1070 1040 1062 1037.6" fill="none" stroke="#000" stroke-width="1.3"/>
<polygon points="1044.3,1029.7 1062.06,1034.07 1059.41,1040" fill="#000"/>
<text transform="translate(368.2 1788.5) scale(0.86 1)" font-family='"Liberation Sans", sans-serif' font-size="16.19" xml:space="preserve" style="white-space:pre" textLength="108.37" lengthAdjust="spacing">15’  BUILDING</text>
<text transform="translate(362.3 1807.3) scale(0.86 1)" font-family='"Liberation Sans", sans-serif' font-size="16.19" xml:space="preserve" style="white-space:pre" textLength="119.53" lengthAdjust="spacing">SETBACK  LINE</text>
<path d="M465 1801 C485 1800 492 1810 500 1820" fill="none" stroke="#000" stroke-width="1.3"/>
<polygon points="512,1835.6 500.58,1825.42 505.38,1821.81" fill="#000"/>
<text transform="translate(321.7 1932.7) scale(0.86 1)" font-family='"Liberation Sans", sans-serif' font-size="17.01" xml:space="preserve" style="white-space:pre" textLength="186.51" lengthAdjust="spacingAndGlyphs">10’  ELEC.,  GAS,  TELE.</text>
<text transform="translate(330.4 1952.1) scale(0.86 1)" font-family='"Liberation Sans", sans-serif' font-size="17.01" xml:space="preserve" style="white-space:pre" textLength="162.33" lengthAdjust="spacingAndGlyphs">&amp;  CATV  EASEMENT</text>
<path d="M470 1944 L481.6 1944 C490 1944 495 1935 500 1920 C504 1908 507 1900 510 1896" fill="none" stroke="#000" stroke-width="1.3"/>
<path d="M481.6 1944 C490 1944 496 1955 502 1966 C505 1972 508 1975 510 1977" fill="none" stroke="#000" stroke-width="1.3"/>
<polygon points="518.1,1886.6 510.95,1900.12 506.3,1896.34" fill="#000"/>
<polygon points="517.2,1984.3 504.97,1975.11 509.45,1971.11" fill="#000"/>
<text transform="translate(961.3 1038.1) scale(0.86 1)" font-family='"Liberation Sans", sans-serif' font-size="15.78" xml:space="preserve" style="white-space:pre" textLength="36.63" lengthAdjust="spacingAndGlyphs">COV.</text>
<text transform="translate(957.2 1055.4) scale(0.86 1)" font-family='"Liberation Sans", sans-serif' font-size="15.78" xml:space="preserve" style="white-space:pre" textLength="47.79" lengthAdjust="spacingAndGlyphs">CONC.</text>
<text transform="translate(785.7 1549.2) scale(0.86 1)" font-family='"Liberation Sans", sans-serif' font-size="15.78" xml:space="preserve" style="white-space:pre" textLength="36.16" lengthAdjust="spacingAndGlyphs">COV.</text>
<text transform="translate(780.6 1566.8) scale(0.86 1)" font-family='"Liberation Sans", sans-serif' font-size="15.78" xml:space="preserve" style="white-space:pre" textLength="48.84" lengthAdjust="spacingAndGlyphs">CONC.</text>
<text transform="translate(842.3 1532.2) scale(0.86 1)" font-family='"Liberation Sans", sans-serif' font-size="15.78" xml:space="preserve" style="white-space:pre" textLength="53.14" lengthAdjust="spacing">(2)7½”</text>
<text transform="translate(844.4 1551.9) scale(0.86 1)" font-family='"Liberation Sans", sans-serif' font-size="15.78" xml:space="preserve" style="white-space:pre" textLength="55.35" lengthAdjust="spacingAndGlyphs">DROPS</text>
<text transform="translate(638.3 1642.5) scale(0.86 1)" font-family='"Liberation Sans", sans-serif' font-size="15.78" xml:space="preserve" style="white-space:pre" textLength="43.84" lengthAdjust="spacing">(2)6”</text>
<text transform="translate(630.7 1662.7) scale(0.86 1)" font-family='"Liberation Sans", sans-serif' font-size="15.78" xml:space="preserve" style="white-space:pre" textLength="54.53" lengthAdjust="spacingAndGlyphs">DROPS</text>
<text x="702.6" y="1174" font-family='"Liberation Sans", sans-serif' font-size="16.05" xml:space="preserve" style="white-space:pre" textLength="30.5" lengthAdjust="spacing">5.5’</text>
<text x="1049.5" y="1176.6" font-family='"Liberation Sans", sans-serif' font-size="16.05" xml:space="preserve" style="white-space:pre" textLength="30.5" lengthAdjust="spacing">5.5’</text>
<text x="708.6" y="1577.8" font-family='"Liberation Sans", sans-serif' font-size="16.05" xml:space="preserve" style="white-space:pre" textLength="32.2" lengthAdjust="spacing">5.0’</text>
<text x="1054" y="1731.6" font-family='"Liberation Sans", sans-serif' font-size="16.05" xml:space="preserve" style="white-space:pre" textLength="31.2" lengthAdjust="spacing">5.0’</text>
<text transform="translate(761.8 1808.4) scale(0.86 1)" font-family='"Liberation Sans", sans-serif' font-size="15.78" xml:space="preserve" style="white-space:pre" textLength="74.3" lengthAdjust="spacing">4’  CONC.</text>
<text transform="translate(775.5 1824.8) scale(0.86 1)" font-family='"Liberation Sans", sans-serif' font-size="15.78" xml:space="preserve" style="white-space:pre" textLength="42.44" lengthAdjust="spacingAndGlyphs">WALK</text>
<path d="M813 1820 L826 1820 C834 1820 836 1810 837 1795 L838 1788" fill="none" stroke="#000" stroke-width="1.3"/>
<polygon points="840.2,1772.2 841.41,1788.43 835.45,1787.77" fill="#000"/>
<line x1="653.2" y1="1168.2" x2="673" y2="1168.2" stroke="#000" stroke-width="1.3" stroke-linecap="butt"/>
<polygon points="689,1168.2 673,1171.45 673,1164.95" fill="#000"/>
<line x1="788.8" y1="1168.7" x2="770.5" y2="1168.7" stroke="#000" stroke-width="1.3" stroke-linecap="butt"/>
<polygon points="750.5,1168.7 770.5,1165.45 770.5,1171.95" fill="#000"/>
<line x1="998.3" y1="1170.5" x2="1016" y2="1170.5" stroke="#000" stroke-width="1.3" stroke-linecap="butt"/>
<polygon points="1036,1170.5 1016,1173.75 1016,1167.25" fill="#000"/>
<line x1="1133.9" y1="1170.5" x2="1113" y2="1170.5" stroke="#000" stroke-width="1.3" stroke-linecap="butt"/>
<polygon points="1097,1170.5 1113,1167.25 1113,1173.75" fill="#000"/>
<line x1="653.2" y1="1572.5" x2="673" y2="1572.5" stroke="#000" stroke-width="1.3" stroke-linecap="butt"/>
<polygon points="689,1572.5 673,1575.75 673,1569.25" fill="#000"/>
<line x1="783" y1="1572.6" x2="766" y2="1572.6" stroke="#000" stroke-width="1.3" stroke-linecap="butt"/>
<polygon points="746,1572.6 766,1569.35 766,1575.85" fill="#000"/>
<line x1="1000" y1="1722.5" x2="1024" y2="1722.5" stroke="#000" stroke-width="1.3" stroke-linecap="butt"/>
<polygon points="1040,1722.5 1024,1725.75 1024,1719.25" fill="#000"/>
<line x1="1133.9" y1="1722.5" x2="1113" y2="1722.5" stroke="#000" stroke-width="1.3" stroke-linecap="butt"/>
<polygon points="1097,1722.5 1113,1719.25 1113,1725.75" fill="#000"/>
<text x="1097.7" y="1800.5" font-family='"Liberation Sans", sans-serif' font-size="14.27" xml:space="preserve" style="white-space:pre" textLength="49.7" lengthAdjust="spacing">564.11</text>
<text transform="translate(1146.6 1858.6) scale(0.86 1)" font-family='"Liberation Sans", sans-serif' font-size="17.15" xml:space="preserve" style="white-space:pre" textLength="42.56" lengthAdjust="spacingAndGlyphs">CATV</text>
<text transform="translate(1129.3 1877.2) scale(0.86 1)" font-family='"Liberation Sans", sans-serif' font-size="17.15" xml:space="preserve" style="white-space:pre" textLength="81.74" lengthAdjust="spacingAndGlyphs">PEDESTAL</text>
<text transform="translate(1165.6 1915.2) scale(0.86 1)" font-family='"Liberation Sans", sans-serif' font-size="17.15" xml:space="preserve" style="white-space:pre" textLength="41.4" lengthAdjust="spacingAndGlyphs">TELE.</text>
<text transform="translate(1147.4 1935.3) scale(0.86 1)" font-family='"Liberation Sans", sans-serif' font-size="17.15" xml:space="preserve" style="white-space:pre" textLength="82.09" lengthAdjust="spacingAndGlyphs">PEDESTAL</text>
<text transform="translate(1137.8 1963.3) scale(0.86 1)" font-family='"Liberation Sans", sans-serif' font-size="17.15" xml:space="preserve" style="white-space:pre" textLength="43.49" lengthAdjust="spacingAndGlyphs">ELEC.</text>
<text transform="translate(1142.6 1981.5) scale(0.86 1)" font-family='"Liberation Sans", sans-serif' font-size="17.15" xml:space="preserve" style="white-space:pre" textLength="31.74" lengthAdjust="spacingAndGlyphs">BOX</text>
<path d="M1142.6 1853.1 C1120 1853 1108 1880 1100 1920" fill="none" stroke="#000" stroke-width="1.3"/>
<path d="M1159.5 1911.2 C1140 1912 1125 1928 1112 1940" fill="none" stroke="#000" stroke-width="1.3"/>
<polygon points="1103.3,1948.1 1112.69,1936.03 1116.61,1940.57" fill="#000"/>
<path d="M1135.4 1956.9 C1125 1957 1115 1962 1106 1966" fill="none" stroke="#000" stroke-width="1.3"/>
<polygon points="1096.1,1970.2 1109.1,1962.13 1111.2,1967.75" fill="#000"/>
<circle cx="1082.5" cy="1949.7" r="6" fill="none" stroke="#000" stroke-width="2"/>
<circle cx="1102" cy="1949.7" r="6" fill="none" stroke="#000" stroke-width="2"/>
<rect x="1080.5" y="1966.5" width="8.4" height="10.5" fill="none" stroke="#000" stroke-width="1.8"/>
<text transform="translate(876 1946.3) rotate(-90) scale(0.86 1)" font-family='"Liberation Sans", sans-serif' font-size="17.83" xml:space="preserve" style="white-space:pre" textLength="46.74" lengthAdjust="spacingAndGlyphs">12.6%</text>
<text transform="translate(896 1948.4) rotate(-90) scale(0.86 1)" font-family='"Liberation Sans", sans-serif' font-size="17.83" xml:space="preserve" style="white-space:pre" textLength="50.7" lengthAdjust="spacingAndGlyphs">SLOPE</text>
<text transform="translate(982.9 1942.2) rotate(-90) scale(0.86 1)" font-family='"Liberation Sans", sans-serif' font-size="17.83" xml:space="preserve" style="white-space:pre" textLength="43.49" lengthAdjust="spacing">9.4%</text>
<text transform="translate(1005.6 1948.4) rotate(-90) scale(0.86 1)" font-family='"Liberation Sans", sans-serif' font-size="17.83" xml:space="preserve" style="white-space:pre" textLength="50.7" lengthAdjust="spacingAndGlyphs">SLOPE</text>
<line x1="880" y1="1904.8" x2="880" y2="1973" stroke="#000" stroke-width="1.5" stroke-linecap="butt"/>
<path d="M880 1954.8 L870.9 1954.8 L880 1973" fill="none" stroke="#000" stroke-width="1.5" stroke-linejoin="miter" stroke-linecap="butt"/>
<line x1="989" y1="1904.8" x2="989" y2="1971.7" stroke="#000" stroke-width="1.5" stroke-linecap="butt"/>
<path d="M989 1952 L979.7 1952 L989 1971.7" fill="none" stroke="#000" stroke-width="1.5" stroke-linejoin="miter" stroke-linecap="butt"/>
<text transform="translate(918.2 1922.2) scale(0.86 1)" font-family='"Liberation Sans", sans-serif' font-size="15.78" xml:space="preserve" style="white-space:pre" textLength="38.84" lengthAdjust="spacing">16.3’</text>
<text transform="translate(914.7 1939.6) scale(0.86 1)" font-family='"Liberation Sans", sans-serif' font-size="15.78" xml:space="preserve" style="white-space:pre" textLength="48.49" lengthAdjust="spacingAndGlyphs">CONC.</text>
<text transform="translate(915.5 1957.5) scale(0.86 1)" font-family='"Liberation Sans", sans-serif' font-size="15.78" xml:space="preserve" style="white-space:pre" textLength="45.12" lengthAdjust="spacingAndGlyphs">DRIVE</text>
<text x="889.3" y="1976.2" font-family='"Liberation Sans", sans-serif' font-size="14.27" xml:space="preserve" style="white-space:pre" textLength="50.3" lengthAdjust="spacing">561.44</text>
<text x="1108.8" y="2001.9" font-family='"Liberation Sans", sans-serif' font-size="14.27" xml:space="preserve" style="white-space:pre" textLength="49.2" lengthAdjust="spacing">562.61</text>
<text x="630" y="1976.2" font-family='"Liberation Sans", sans-serif' font-size="14.27" xml:space="preserve" style="white-space:pre" textLength="51.2" lengthAdjust="spacing">560.65</text>
<line x1="891.4" y1="1980" x2="891.4" y2="1992" stroke="#000" stroke-width="1.3" stroke-linecap="butt"/>
<line x1="1031.8" y1="1736.1" x2="1031.8" y2="2046" stroke="#000" stroke-width="1.3" stroke-linecap="butt"/>
<rect x="1023" y="1866" width="18" height="52" fill="#fff"/>
<text transform="translate(1038.3 1912.5) rotate(-90) scale(0.86 1)" font-family='"Liberation Sans", sans-serif' font-size="17.83" xml:space="preserve" style="white-space:pre" textLength="46.51" lengthAdjust="spacing">31.2’</text>
<polygon points="1031.8,1738 1035.05,1758 1028.55,1758" fill="#000"/>
<polygon points="1031.8,2047 1028.55,2027 1035.05,2027" fill="#000"/>
<line x1="692.5" y1="2048.7" x2="841.7" y2="2048.7" stroke="#000" stroke-width="2" stroke-linecap="butt"/>
<line x1="1031" y1="2048.7" x2="1093.9" y2="2048.7" stroke="#000" stroke-width="2" stroke-linecap="butt"/>
<text transform="translate(713.9 2078.6) scale(0.86 1)" font-family='"Liberation Sans", sans-serif' font-size="16.46" xml:space="preserve" style="white-space:pre" textLength="129.88" lengthAdjust="spacing">4’  CONC.  WALK</text>
<line x1="692" y1="2089.1" x2="1093.3" y2="2089.1" stroke="#000" stroke-width="2" stroke-linecap="butt"/>
<line x1="692" y1="2095.6" x2="1093.3" y2="2095.6" stroke="#000" stroke-width="2" stroke-linecap="butt"/>
<line x1="694.5" y1="2084" x2="694.5" y2="2102" stroke="#000" stroke-width="1.5" stroke-linecap="butt"/>
<line x1="690.5" y1="2089" x2="698.5" y2="2089" stroke="#000" stroke-width="1.2" stroke-linecap="butt"/>
<line x1="893.5" y1="2084" x2="893.5" y2="2102" stroke="#000" stroke-width="1.5" stroke-linecap="butt"/>
<line x1="889.5" y1="2089" x2="897.5" y2="2089" stroke="#000" stroke-width="1.2" stroke-linecap="butt"/>
<line x1="1092" y1="2084" x2="1092" y2="2102" stroke="#000" stroke-width="1.5" stroke-linecap="butt"/>
<line x1="1088" y1="2089" x2="1096" y2="2089" stroke="#000" stroke-width="1.2" stroke-linecap="butt"/>
<text transform="translate(752.8 2116.4) scale(0.86 1)" font-family='"Liberation Sans", sans-serif' font-size="16.19" xml:space="preserve" style="white-space:pre" textLength="42.33" lengthAdjust="spacingAndGlyphs">CURB</text>
<text transform="translate(652.6 2151.8) rotate(-53.76) scale(0.86 1)" font-family='"Liberation Sans", sans-serif' font-size="13.03" xml:space="preserve" style="white-space:pre" textLength="59.66" lengthAdjust="spacing">T.O.C.=</text>
<text transform="translate(671.9 2151.8) rotate(-54.13) scale(0.86 1)" font-family='"Liberation Sans", sans-serif' font-size="13.03" xml:space="preserve" style="white-space:pre" textLength="60.22" lengthAdjust="spacing">560.39</text>
<text transform="translate(687.9 2151.8) rotate(-55.14) scale(0.86 1)" font-family='"Liberation Sans", sans-serif' font-size="13.03" xml:space="preserve" style="white-space:pre" textLength="48.8" lengthAdjust="spacing">GUT.=</text>
<text transform="translate(705 2151.8) rotate(-53.93) scale(0.86 1)" font-family='"Liberation Sans", sans-serif' font-size="13.03" xml:space="preserve" style="white-space:pre" textLength="61.1" lengthAdjust="spacing">559.82</text>
<text transform="translate(855.6 2151.8) rotate(-53.76) scale(0.86 1)" font-family='"Liberation Sans", sans-serif' font-size="13.03" xml:space="preserve" style="white-space:pre" textLength="59.66" lengthAdjust="spacing">T.O.C.=</text>
<text transform="translate(874.9 2151.8) rotate(-54.13) scale(0.86 1)" font-family='"Liberation Sans", sans-serif' font-size="13.03" xml:space="preserve" style="white-space:pre" textLength="60.22" lengthAdjust="spacing">561.32</text>
<text transform="translate(890.9 2151.8) rotate(-55.14) scale(0.86 1)" font-family='"Liberation Sans", sans-serif' font-size="13.03" xml:space="preserve" style="white-space:pre" textLength="48.8" lengthAdjust="spacing">GUT.=</text>
<text transform="translate(908 2151.8) rotate(-53.93) scale(0.86 1)" font-family='"Liberation Sans", sans-serif' font-size="13.03" xml:space="preserve" style="white-space:pre" textLength="61.1" lengthAdjust="spacing">560.76</text>
<text transform="translate(1056.6 2151.8) rotate(-53.76) scale(0.86 1)" font-family='"Liberation Sans", sans-serif' font-size="13.03" xml:space="preserve" style="white-space:pre" textLength="59.66" lengthAdjust="spacing">T.O.C.=</text>
<text transform="translate(1075.9 2151.8) rotate(-54.13) scale(0.86 1)" font-family='"Liberation Sans", sans-serif' font-size="13.03" xml:space="preserve" style="white-space:pre" textLength="60.22" lengthAdjust="spacing">562.23</text>
<text transform="translate(1091.9 2151.8) rotate(-55.14) scale(0.86 1)" font-family='"Liberation Sans", sans-serif' font-size="13.03" xml:space="preserve" style="white-space:pre" textLength="48.8" lengthAdjust="spacing">GUT.=</text>
<text transform="translate(1109 2151.8) rotate(-53.93) scale(0.86 1)" font-family='"Liberation Sans", sans-serif' font-size="13.03" xml:space="preserve" style="white-space:pre" textLength="61.1" lengthAdjust="spacing">561.65</text>
<path d="M657 1994.4 L657 2021 L690 1994.4 L690 2021 L657 1994.4" fill="none" stroke="#000" stroke-width="2" stroke-linejoin="miter" stroke-linecap="butt"/>
<path d="M697.3 1994.4 L697.3 2021 L730.3 1994.4 L730.3 2021 L697.3 1994.4" fill="none" stroke="#000" stroke-width="2" stroke-linejoin="miter" stroke-linecap="butt"/>
<text transform="translate(661 2037.2) scale(0.86 1)" font-family='"Liberation Sans", sans-serif' font-size="15.09" xml:space="preserve" style="white-space:pre" textLength="33.72" lengthAdjust="spacing" stroke="#000" stroke-width="0.9">WM.</text>
<text transform="translate(700 2037.2) scale(0.86 1)" font-family='"Liberation Sans", sans-serif' font-size="15.09" xml:space="preserve" style="white-space:pre" textLength="34.88" lengthAdjust="spacing" stroke="#000" stroke-width="0.9">WM.</text>
<line x1="1357.2" y1="83.2" x2="1367.7" y2="102.5" stroke="#000" stroke-width="1.5" stroke-linecap="butt"/>
<line x1="1370.3" y1="83.2" x2="1380.9" y2="102.5" stroke="#000" stroke-width="1.5" stroke-linecap="butt"/>
<line x1="1319.9" y1="403.9" x2="1388.7" y2="403.9" stroke="#000" stroke-width="1.6" stroke-linecap="butt"/>
<path d="M1363.9 392.2 L1388.7 403.9 L1363.9 416.4" fill="none" stroke="#000" stroke-width="1.6" stroke-linejoin="miter" stroke-linecap="butt"/>
<line x1="1320.8" y1="433.9" x2="1347" y2="433.9" stroke="#000" stroke-width="1.6" stroke-linecap="butt"/>
<polygon points="1345.9,427.2 1386.9,433.4 1386.9,434.4 1345.9,441" fill="#000"/>
<rect x="1329" y="453.4" width="59.7" height="22.2" fill="none" stroke="#000" stroke-width="1.6"/>
<text transform="translate(1335.5 471.1) scale(0.86 1)" font-family='"Liberation Sans", sans-serif' font-size="17.42" xml:space="preserve" style="white-space:pre" textLength="55.23" lengthAdjust="spacing">100.0</text>
<path d="M1355.6 576.5 L1385.6 576.5 L1399.9 601.2 L1385.6 627.6 L1355.6 627.6 L1339.4 601.2Z" fill="none" stroke="#000" stroke-width="1.6" stroke-linejoin="miter" stroke-linecap="butt"/>
<line x1="1339.4" y1="601.2" x2="1399.9" y2="601.2" stroke="#000" stroke-width="1.6" stroke-linecap="butt"/>
<text transform="translate(1359.5 595.5) scale(0.86 1)" font-family='"Liberation Sans", sans-serif' font-size="17.42" xml:space="preserve" style="white-space:pre" textLength="24.42" lengthAdjust="spacing">00</text>
<text transform="translate(1359.5 620.5) scale(0.86 1)" font-family='"Liberation Sans", sans-serif' font-size="17.42" xml:space="preserve" style="white-space:pre" textLength="24.42" lengthAdjust="spacing">00</text>
<path d="M1353.5 640.6 L1353.5 665.1 L1385.6 640.6 L1385.6 665.1 L1353.5 640.6" fill="none" stroke="#000" stroke-width="1.6" stroke-linejoin="miter" stroke-linecap="butt"/>
<text transform="translate(1315.2 658) scale(0.86 1)" font-family='"Liberation Sans", sans-serif' font-size="17.42" xml:space="preserve" style="white-space:pre" textLength="33.49" lengthAdjust="spacingAndGlyphs">WM.</text>
<polygon points="958.2,107.2 959.6,106.8 988.5,149 984.5,152.5" fill="#000"/>
<path d="M985.5 151.5 C989 148 995 147.5 998.5 148.4 C1003 150 1006 154 1005.6 158 C1005 162 1002 164.2 999.8 163.2 C997.8 162 998.2 159.4 1000.4 159.6" fill="none" stroke="#000" stroke-width="1.7"/>
<path d="M985.5 151.5 C983.8 156 985 162 989 167.5 C993 173.5 999.5 178.5 1004.5 183 C1008 186.5 1010.5 189.5 1012.5 193" fill="none" stroke="#000" stroke-width="1.7"/>
<polygon points="994.2,158.8 1000.5,157.5 1002,164.5 1016,186 1023.5,195.5 1013.7,200.5 1005.9,185.5 996.8,172.5 994.2,165.3" fill="#000"/>
<ellipse cx="1025.4" cy="200.3" rx="17.5" ry="4.2" transform="rotate(-40 1025.4 200.3)" fill="none" stroke="#000" stroke-width="5"/>
<ellipse cx="1025.4" cy="200.3" rx="17.5" ry="4.2" transform="rotate(-40 1025.4 200.3)" fill="none" stroke="#fff" stroke-width="1.8"/>
<line x1="1020.3" y1="190.2" x2="1031" y2="190.2" stroke="#000" stroke-width="1.5" stroke-linecap="butt"/>
<line x1="1029.8" y1="184.5" x2="1030.3" y2="190.5" stroke="#000" stroke-width="1.3" stroke-linecap="butt"/>
<polygon points="1019.1,206.4 1030,203.8 1044.4,227.2 1034.2,231.5 1023.3,215.2" fill="#000"/>
<path d="M1028.4 209.1 C1040 208 1055 218 1062 232 C1068 242 1066 250.5 1060 252.3 C1053 254 1046 250 1044.5 244 C1043.5 239 1048 236.3 1052 237 C1056 238 1057 241 1054.6 242.6" fill="none" stroke="#000" stroke-width="1.7"/>
<path d="M1037 213.5 C1045 219.5 1052 228 1055 238.5" fill="none" stroke="#000" stroke-width="2"/>
<line x1="1061" y1="251" x2="1108.2" y2="315.9" stroke="#000" stroke-width="1.6" stroke-linecap="butt"/>
<polygon points="1092.6,293.2 1097.7,289.2 1110.2,306.8 1096.6,309.1" fill="#000"/>
<line x1="1096.5" y1="291.5" x2="1107.5" y2="306.5" stroke="#fff" stroke-width="0.9" stroke-linecap="butt"/>
<line x1="1071" y1="2615" x2="1644" y2="2615" stroke="#231f20" stroke-width="4" stroke-linecap="butt"/>
<path d="M1136.09 2690.35 A111 111 0 1 1 1289.75 2690.88 L1274.58 2674.95 A89 89 0 1 0 1151.38 2674.52 Z" fill="#e05a2b" stroke="#000" stroke-width="1.6"/>
<path d="M1279.52 2700.13 A111.5 111.5 0 0 1 1146.88 2700.13 L1161.45 2680.44 A87 87 0 0 0 1264.95 2680.44 Z" fill="#231f20" stroke="#000" stroke-width="0"/>
<circle cx="1213.2" cy="2610.5" r="62.8" fill="none" stroke="#231f20" stroke-width="18.5"/>
<line x1="1213" y1="2470" x2="1213" y2="2564" stroke="#231f20" stroke-width="9.5" stroke-linecap="round"/>
<path d="M1199.46 2563.94 L1227.87 2563.94 L1242.41 2578.65 L1242.41 2591.18 L1225.7 2591.18 L1225.7 2581.16 L1201.63 2581.16 L1201.63 2595.03 L1206.98 2600.37 L1232.05 2600.37 L1242.41 2610.4 L1242.41 2640.48 L1228.37 2654.69 L1199.46 2654.69 L1184.42 2640.48 L1184.42 2627.11 L1201.13 2627.11 L1201.13 2637.14 L1222.02 2637.14 L1225.36 2633.8 L1225.36 2620.43 L1195.28 2620.43 L1184.42 2609.57 L1184.42 2578.98Z" fill="#e05a2b" stroke="#000" stroke-width="1.3" stroke-linejoin="miter" stroke-linecap="butt"/>
<line x1="1213" y1="2580.3" x2="1213" y2="2637.1" stroke="#231f20" stroke-width="9.5" stroke-linecap="butt"/>
<line x1="1213.6" y1="2564" x2="1213.6" y2="2580.3" stroke="#231f20" stroke-width="1.6" stroke-linecap="butt"/>
<line x1="1213" y1="2654.7" x2="1213" y2="2743" stroke="#231f20" stroke-width="9.5" stroke-linecap="butt"/>
<line x1="1225" y1="2615" x2="1242.9" y2="2615" stroke="#231f20" stroke-width="4" stroke-linecap="butt"/>
<text transform="translate(949.7 1069) rotate(-90) scale(0.86 1)" font-family='"Liberation Sans", sans-serif' font-size="15.09" xml:space="preserve" style="white-space:pre" textLength="16.28" lengthAdjust="spacing">2”</text>
<text transform="translate(943.1 1114.7) rotate(-90) scale(0.86 1)" font-family='"Liberation Sans", sans-serif' font-size="15.09" xml:space="preserve" style="white-space:pre" textLength="25.58" lengthAdjust="spacingAndGlyphs">3½”</text>
<line x1="951" y1="1070" x2="951" y2="1110" stroke="#000" stroke-width="1.3" stroke-linecap="butt"/>
<path d="M951 1092 A7 7 0 0 0 958 1099 L958 1092 Z" fill="#000"/>
<path d="M951 1092 A7 7 0 0 1 958 1085 L958 1092 Z" fill="#000"/>
<line x1="952" y1="1096" x2="957" y2="1091" stroke="#fff" stroke-width="1" stroke-linecap="butt"/>
<text transform="translate(771.1 1519.4) rotate(-90) scale(0.86 1)" font-family='"Liberation Sans", sans-serif' font-size="15.09" xml:space="preserve" style="white-space:pre" textLength="25.58" lengthAdjust="spacingAndGlyphs">3½”</text>
<text transform="translate(771.1 1544.4) rotate(-90) scale(0.86 1)" font-family='"Liberation Sans", sans-serif' font-size="15.09" xml:space="preserve" style="white-space:pre" textLength="16.28" lengthAdjust="spacing">2”</text>
<circle cx="781.2" cy="1520.8" r="7" fill="#000"/>
<line x1="777" y1="1524" x2="784" y2="1517" stroke="#fff" stroke-width="1" stroke-linecap="butt"/>
<line x1="775" y1="1500" x2="775" y2="1516" stroke="#000" stroke-width="1.3" stroke-linecap="butt"/>
<line x1="781.2" y1="1527" x2="781.2" y2="1541" stroke="#000" stroke-width="1.3" stroke-linecap="butt"/>
<path d="M776 1523 C772 1528 770 1531 776 1532 L781 1532" fill="none" stroke="#000" stroke-width="1.2"/>
<path d="M677.6 1657 L697 1655.5 C718 1652 732 1630 752 1603" fill="none" stroke="#000" stroke-width="1.3"/>
<polygon points="762.5,1593.3 753.58,1606.97 748.95,1602.41" fill="#000"/>
<line x1="1010" y1="985" x2="1027" y2="998" stroke="#000" stroke-width="1.3" stroke-linecap="butt"/>
<text transform="translate(1059.2 1559.5) rotate(-90) scale(0.86 1)" font-family='"Liberation Sans", sans-serif' font-size="16.05" xml:space="preserve" style="white-space:pre" textLength="52.91" lengthAdjust="spacingAndGlyphs">AC  ON</text>
<text transform="translate(1077.4 1558.2) rotate(-90) scale(0.86 1)" font-family='"Liberation Sans", sans-serif' font-size="16.05" xml:space="preserve" style="white-space:pre" textLength="48.37" lengthAdjust="spacingAndGlyphs">CONC.</text>
<text transform="translate(919 1607.5) rotate(-90) scale(0.86 1)" font-family='"Liberation Sans", sans-serif' font-size="15.09" xml:space="preserve" style="white-space:pre" textLength="16.28" lengthAdjust="spacing">2”</text>
<path d="M1041 1485 L1045 1489 L1052 1479" fill="none" stroke="#000" stroke-width="1.3"/>
</svg>
</body></html>
